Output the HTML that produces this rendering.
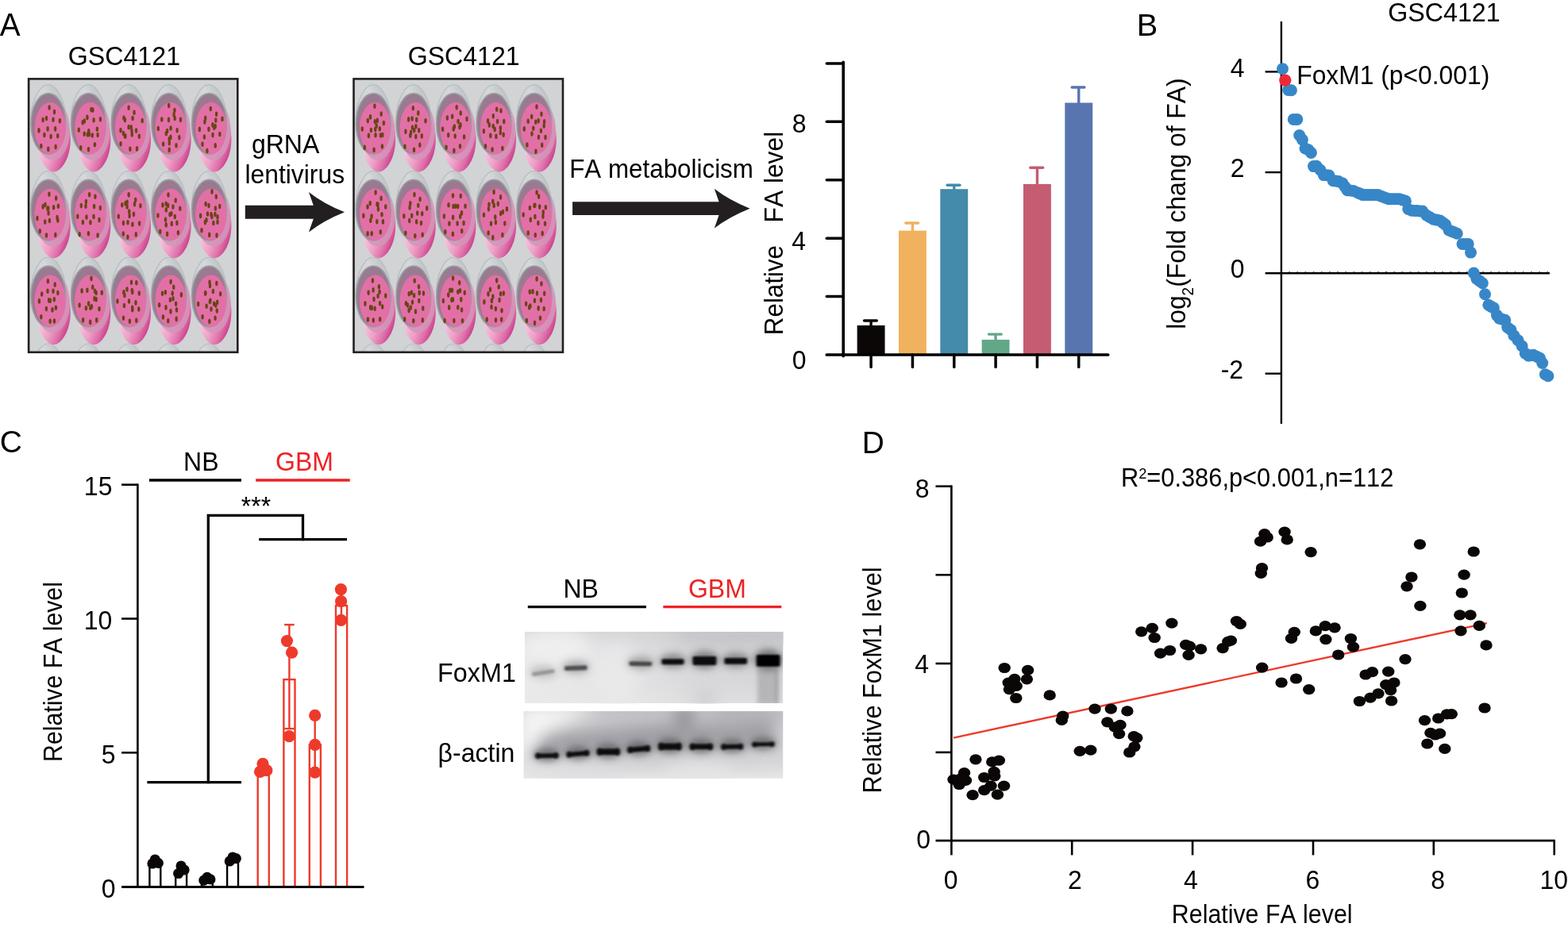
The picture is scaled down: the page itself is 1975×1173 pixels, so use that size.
<!DOCTYPE html>
<html lang="en"><head><meta charset="utf-8"><title>Figure</title>
<style>html,body{margin:0;padding:0;background:#fff;overflow:hidden}svg{display:block}text{font-family:'Liberation Sans', sans-serif;font-kerning:none}</style>
</head><body>
<svg width="1975" height="1173" viewBox="0 0 1975 1173">
<rect width="1975" height="1173" fill="#fff"/>
<defs>
<linearGradient id="gBase" gradientUnits="userSpaceOnUse" x1="-12" y1="26" x2="24" y2="40"><stop offset="0" stop-color="#f7c4dd"/><stop offset="0.4" stop-color="#eea0c7"/><stop offset="0.72" stop-color="#de6ea8"/><stop offset="1" stop-color="#c32c81"/></linearGradient>
<linearGradient id="gHalo" gradientUnits="userSpaceOnUse" x1="-24" y1="-10" x2="16" y2="-30"><stop offset="0" stop-color="#b3b8bc"/><stop offset="0.35" stop-color="#cfd2d4"/><stop offset="0.7" stop-color="#d6d8da"/><stop offset="1" stop-color="#c3c7ca"/></linearGradient>
<filter id="b1" x="-20%" y="-20%" width="140%" height="140%"><feGaussianBlur stdDeviation="0.6"/></filter>
<filter id="bb" x="-30%" y="-60%" width="160%" height="220%"><feGaussianBlur stdDeviation="1.5 1.0"/></filter>
<filter id="bb2" x="-10%" y="-50%" width="120%" height="200%"><feGaussianBlur stdDeviation="4.6"/></filter>
<filter id="bb3" x="-20%" y="-50%" width="140%" height="200%"><feGaussianBlur stdDeviation="9"/></filter>
<filter id="bb4" x="-50%" y="-20%" width="200%" height="140%"><feGaussianBlur stdDeviation="2.5 5"/></filter>
<linearGradient id="gBlot1" x1="0" y1="0" x2="1" y2="0"><stop offset="0" stop-color="#ededee"/><stop offset="0.4" stop-color="#e4e4e6"/><stop offset="0.62" stop-color="#d6d6d9"/><stop offset="1" stop-color="#cdced1"/></linearGradient>
<linearGradient id="gBlot1v" x1="0" y1="0" x2="0" y2="1"><stop offset="0" stop-color="#c8c9cb" stop-opacity="0.5"/><stop offset="0.5" stop-color="#e0e0e1" stop-opacity="0.2"/><stop offset="1" stop-color="#e8e8e8" stop-opacity="0.6"/></linearGradient>
<linearGradient id="gBlot2" x1="0" y1="0" x2="1" y2="0"><stop offset="0" stop-color="#dedee0"/><stop offset="0.3" stop-color="#c9c9cd"/><stop offset="0.6" stop-color="#c4c4c8"/><stop offset="1" stop-color="#cfcfd3"/></linearGradient>
<linearGradient id="gBlot2v" x1="0" y1="0" x2="0" y2="1"><stop offset="0" stop-color="#bbbcbe" stop-opacity="0.55"/><stop offset="0.55" stop-color="#d8d8d9" stop-opacity="0.1"/><stop offset="1" stop-color="#f0f0f0" stop-opacity="0.75"/></linearGradient>
<clipPath id="cb1"><rect x="36.1" y="99.4" width="263.2" height="344.4"/></clipPath>
<clipPath id="cb2"><rect x="445.5" y="99.4" width="263.5" height="344.4"/></clipPath>
<clipPath id="cw1"><rect x="661" y="796" width="325.3" height="90.1"/></clipPath>
<clipPath id="cw2"><rect x="659.5" y="896.1" width="326.9" height="84.6"/></clipPath>
<path id="halo" d="M19.40 -12.00C19.40 11.75 9.64 31.00 -2.40 31.00C-14.44 31.00 -24.20 11.75 -24.20 -12.00C-24.20 -36.94 -11.99 -55.00 -2.40 -55.00C7.19 -55.00 19.40 -36.94 19.40 -12.00Z" fill="url(#gHalo)" stroke="#b9bdc0" stroke-width="1.2"/>
<path id="base" d="M-16.80 14.20C-16.80 -8.33 -7.31 -26.60 4.40 -26.60C16.11 -26.60 25.60 -8.33 25.60 14.20C25.60 37.86 13.73 55.00 4.40 55.00C-4.93 55.00 -16.80 37.86 -16.80 14.20Z" fill="url(#gBase)"/>
</defs>
<g id="panelA">
<text font-size="39" transform="translate(-0.15 45.4) scale(0.9942 1.045)">A</text>
<text font-size="31" transform="translate(85.64 81.8) scale(1.0398 1.045)">GSC4121</text>
<text font-size="31" transform="translate(513.65 81.8) scale(1.0359 1.045)">GSC4121</text>
<text font-size="31" transform="translate(316.91 193.0) scale(1.0338 1.045)">gRNA</text>
<text font-size="31" transform="translate(308.45 230.9) scale(1.0273 1.045)">lentivirus</text>
<text font-size="31" transform="translate(717.17 223.7) scale(1.0116 1.045)">FA metabolicism</text>
<rect x="36.099999999999994" y="99.4" width="263.2" height="344.4" fill="#d1d3d4"/>
<g clip-path="url(#cb1)" filter="url(#b1)">
<g transform="translate(63.2 488.0)"><use href="#halo"/><use href="#base"/><ellipse cx="3.1" cy="2.6" rx="21.8" ry="37.6" fill="#d295b9" opacity="0.85"/><ellipse cx="-2.3" cy="-5.6" rx="21.8" ry="38.4" fill="#9a7a90" stroke="#989da1" stroke-width="1.7"/><ellipse cx="0" cy="0" rx="19.6" ry="32.6" fill="#e26fa7"/><g fill="#6b4416"><ellipse cx="-3.5" cy="-28.4" rx="1.7" ry="3.3"/><ellipse cx="4.8" cy="-19.4" rx="1.7" ry="3.3"/><ellipse cx="-10.9" cy="-12.8" rx="1.7" ry="3.3"/><ellipse cx="-6.0" cy="-11.0" rx="1.7" ry="3.3"/><ellipse cx="2.0" cy="-9.5" rx="1.7" ry="3.3"/><ellipse cx="13.0" cy="-11.6" rx="1.7" ry="3.3"/><ellipse cx="-14.0" cy="2.5" rx="1.7" ry="3.3"/><ellipse cx="-3.5" cy="3.8" rx="1.7" ry="3.3"/><ellipse cx="4.4" cy="-2.1" rx="1.7" ry="3.3"/><ellipse cx="-5.1" cy="7.9" rx="1.7" ry="3.3"/><ellipse cx="-0.6" cy="9.5" rx="1.7" ry="3.3"/><ellipse cx="8.8" cy="12.3" rx="1.7" ry="3.3"/><ellipse cx="-12.8" cy="20.7" rx="1.7" ry="3.3"/><ellipse cx="-2.0" cy="26.6" rx="1.7" ry="3.3"/><ellipse cx="9.2" cy="25.5" rx="1.7" ry="3.3"/><ellipse cx="1.0" cy="2.2" rx="1.7" ry="3.3"/><ellipse cx="1.1" cy="-7.2" rx="1.7" ry="3.3"/><ellipse cx="4.7" cy="5.5" rx="1.7" ry="3.3"/></g></g>
<g transform="translate(113.8 488.0)"><use href="#halo"/><use href="#base"/><ellipse cx="3.1" cy="2.6" rx="21.8" ry="37.6" fill="#d295b9" opacity="0.85"/><ellipse cx="-2.3" cy="-5.6" rx="21.8" ry="38.4" fill="#9a7a90" stroke="#989da1" stroke-width="1.7"/><ellipse cx="0" cy="0" rx="19.6" ry="32.6" fill="#e26fa7"/><g fill="#6b4416"><ellipse cx="-3.2" cy="-27.8" rx="1.7" ry="3.3"/><ellipse cx="4.3" cy="-18.1" rx="1.7" ry="3.3"/><ellipse cx="-9.1" cy="-9.2" rx="1.7" ry="3.3"/><ellipse cx="-6.7" cy="-12.4" rx="1.7" ry="3.3"/><ellipse cx="5.5" cy="-10.8" rx="1.7" ry="3.3"/><ellipse cx="14.4" cy="-7.1" rx="1.7" ry="3.3"/><ellipse cx="-14.8" cy="-0.2" rx="1.7" ry="3.3"/><ellipse cx="-1.8" cy="-1.4" rx="1.7" ry="3.3"/><ellipse cx="3.9" cy="2.2" rx="1.7" ry="3.3"/><ellipse cx="-5.6" cy="10.5" rx="1.7" ry="3.3"/><ellipse cx="3.2" cy="8.7" rx="1.7" ry="3.3"/><ellipse cx="7.4" cy="7.3" rx="1.7" ry="3.3"/><ellipse cx="-9.0" cy="20.1" rx="1.7" ry="3.3"/><ellipse cx="-4.1" cy="23.4" rx="1.7" ry="3.3"/><ellipse cx="4.6" cy="20.7" rx="1.7" ry="3.3"/><ellipse cx="0.7" cy="9.3" rx="1.7" ry="3.3"/><ellipse cx="-0.7" cy="-9.8" rx="1.7" ry="3.3"/><ellipse cx="-8.3" cy="-3.5" rx="1.7" ry="3.3"/></g></g>
<g transform="translate(164.5 488.0)"><use href="#halo"/><use href="#base"/><ellipse cx="3.1" cy="2.6" rx="21.8" ry="37.6" fill="#d295b9" opacity="0.85"/><ellipse cx="-2.3" cy="-5.6" rx="21.8" ry="38.4" fill="#9a7a90" stroke="#989da1" stroke-width="1.7"/><ellipse cx="0" cy="0" rx="19.6" ry="32.6" fill="#e26fa7"/><g fill="#6b4416"><ellipse cx="-0.7" cy="-25.3" rx="1.7" ry="3.3"/><ellipse cx="6.9" cy="-21.8" rx="1.7" ry="3.3"/><ellipse cx="-8.3" cy="-8.2" rx="1.7" ry="3.3"/><ellipse cx="-2.7" cy="-14.4" rx="1.7" ry="3.3"/><ellipse cx="4.6" cy="-10.2" rx="1.7" ry="3.3"/><ellipse cx="12.2" cy="-6.6" rx="1.7" ry="3.3"/><ellipse cx="-14.1" cy="2.5" rx="1.7" ry="3.3"/><ellipse cx="-0.9" cy="1.6" rx="1.7" ry="3.3"/><ellipse cx="5.4" cy="-0.3" rx="1.7" ry="3.3"/><ellipse cx="-7.3" cy="5.8" rx="1.7" ry="3.3"/><ellipse cx="1.4" cy="11.9" rx="1.7" ry="3.3"/><ellipse cx="9.1" cy="11.7" rx="1.7" ry="3.3"/><ellipse cx="-9.3" cy="22.7" rx="1.7" ry="3.3"/><ellipse cx="-1.5" cy="24.0" rx="1.7" ry="3.3"/><ellipse cx="4.7" cy="26.4" rx="1.7" ry="3.3"/><ellipse cx="10.3" cy="-0.7" rx="1.7" ry="3.3"/><ellipse cx="3.5" cy="3.0" rx="1.7" ry="3.3"/><ellipse cx="-4.6" cy="-12.6" rx="1.7" ry="3.3"/></g></g>
<g transform="translate(215.1 488.0)"><use href="#halo"/><use href="#base"/><ellipse cx="3.1" cy="2.6" rx="21.8" ry="37.6" fill="#d295b9" opacity="0.85"/><ellipse cx="-2.3" cy="-5.6" rx="21.8" ry="38.4" fill="#9a7a90" stroke="#989da1" stroke-width="1.7"/><ellipse cx="0" cy="0" rx="19.6" ry="32.6" fill="#e26fa7"/><g fill="#6b4416"><ellipse cx="-1.0" cy="-25.6" rx="1.7" ry="3.3"/><ellipse cx="7.0" cy="-18.1" rx="1.7" ry="3.3"/><ellipse cx="-7.2" cy="-11.3" rx="1.7" ry="3.3"/><ellipse cx="-2.5" cy="-13.0" rx="1.7" ry="3.3"/><ellipse cx="2.8" cy="-13.3" rx="1.7" ry="3.3"/><ellipse cx="12.3" cy="-11.5" rx="1.7" ry="3.3"/><ellipse cx="-15.3" cy="3.5" rx="1.7" ry="3.3"/><ellipse cx="-1.7" cy="2.3" rx="1.7" ry="3.3"/><ellipse cx="4.3" cy="-1.8" rx="1.7" ry="3.3"/><ellipse cx="-8.5" cy="8.8" rx="1.7" ry="3.3"/><ellipse cx="2.6" cy="12.3" rx="1.7" ry="3.3"/><ellipse cx="11.7" cy="10.1" rx="1.7" ry="3.3"/><ellipse cx="-10.7" cy="21.2" rx="1.7" ry="3.3"/><ellipse cx="-3.3" cy="24.5" rx="1.7" ry="3.3"/><ellipse cx="7.1" cy="24.1" rx="1.7" ry="3.3"/><ellipse cx="-2.4" cy="-1.3" rx="1.7" ry="3.3"/><ellipse cx="-0.5" cy="-2.0" rx="1.7" ry="3.3"/><ellipse cx="-0.4" cy="-1.3" rx="1.7" ry="3.3"/><ellipse cx="-4.1" cy="2.8" rx="1.7" ry="3.3"/></g></g>
<g transform="translate(265.8 488.0)"><use href="#halo"/><use href="#base"/><ellipse cx="3.1" cy="2.6" rx="21.8" ry="37.6" fill="#d295b9" opacity="0.85"/><ellipse cx="-2.3" cy="-5.6" rx="21.8" ry="38.4" fill="#9a7a90" stroke="#989da1" stroke-width="1.7"/><ellipse cx="0" cy="0" rx="19.6" ry="32.6" fill="#e26fa7"/><g fill="#6b4416"><ellipse cx="-0.9" cy="-24.6" rx="1.7" ry="3.3"/><ellipse cx="6.5" cy="-18.3" rx="1.7" ry="3.3"/><ellipse cx="-10.2" cy="-7.7" rx="1.7" ry="3.3"/><ellipse cx="-4.4" cy="-11.0" rx="1.7" ry="3.3"/><ellipse cx="5.1" cy="-8.3" rx="1.7" ry="3.3"/><ellipse cx="11.1" cy="-10.2" rx="1.7" ry="3.3"/><ellipse cx="-13.1" cy="3.3" rx="1.7" ry="3.3"/><ellipse cx="-1.8" cy="-0.0" rx="1.7" ry="3.3"/><ellipse cx="8.7" cy="-2.1" rx="1.7" ry="3.3"/><ellipse cx="-6.2" cy="7.7" rx="1.7" ry="3.3"/><ellipse cx="-1.5" cy="11.6" rx="1.7" ry="3.3"/><ellipse cx="7.3" cy="8.0" rx="1.7" ry="3.3"/><ellipse cx="-12.3" cy="20.3" rx="1.7" ry="3.3"/><ellipse cx="-4.1" cy="23.7" rx="1.7" ry="3.3"/><ellipse cx="8.6" cy="21.0" rx="1.7" ry="3.3"/><ellipse cx="-6.2" cy="-6.2" rx="1.7" ry="3.3"/><ellipse cx="5.2" cy="10.7" rx="1.7" ry="3.3"/></g></g>
<g transform="translate(63.2 379.2)"><use href="#halo"/><use href="#base"/><ellipse cx="3.1" cy="2.6" rx="21.8" ry="37.6" fill="#d295b9" opacity="0.85"/><ellipse cx="-2.3" cy="-5.6" rx="21.8" ry="38.4" fill="#9a7a90" stroke="#989da1" stroke-width="1.7"/><ellipse cx="0" cy="0" rx="19.6" ry="32.6" fill="#e26fa7"/><g fill="#6b4416"><ellipse cx="-2.8" cy="-25.0" rx="1.7" ry="3.3"/><ellipse cx="6.0" cy="-20.6" rx="1.7" ry="3.3"/><ellipse cx="-10.5" cy="-8.7" rx="1.7" ry="3.3"/><ellipse cx="-3.2" cy="-12.4" rx="1.7" ry="3.3"/><ellipse cx="3.8" cy="-12.5" rx="1.7" ry="3.3"/><ellipse cx="9.7" cy="-10.2" rx="1.7" ry="3.3"/><ellipse cx="-13.8" cy="0.2" rx="1.7" ry="3.3"/><ellipse cx="-1.6" cy="-0.8" rx="1.7" ry="3.3"/><ellipse cx="5.1" cy="-1.9" rx="1.7" ry="3.3"/><ellipse cx="-4.8" cy="9.9" rx="1.7" ry="3.3"/><ellipse cx="2.8" cy="11.2" rx="1.7" ry="3.3"/><ellipse cx="7.2" cy="8.6" rx="1.7" ry="3.3"/><ellipse cx="-11.4" cy="20.1" rx="1.7" ry="3.3"/><ellipse cx="-0.1" cy="25.5" rx="1.7" ry="3.3"/><ellipse cx="5.2" cy="25.4" rx="1.7" ry="3.3"/><ellipse cx="0.1" cy="-0.4" rx="1.7" ry="3.3"/></g></g>
<g transform="translate(113.8 379.2)"><use href="#halo"/><use href="#base"/><ellipse cx="3.1" cy="2.6" rx="21.8" ry="37.6" fill="#d295b9" opacity="0.85"/><ellipse cx="-2.3" cy="-5.6" rx="21.8" ry="38.4" fill="#9a7a90" stroke="#989da1" stroke-width="1.7"/><ellipse cx="0" cy="0" rx="19.6" ry="32.6" fill="#e26fa7"/><g fill="#6b4416"><ellipse cx="1.2" cy="-28.3" rx="1.7" ry="3.3"/><ellipse cx="2.9" cy="-17.5" rx="1.7" ry="3.3"/><ellipse cx="-10.7" cy="-12.8" rx="1.7" ry="3.3"/><ellipse cx="-3.9" cy="-13.4" rx="1.7" ry="3.3"/><ellipse cx="5.7" cy="-12.5" rx="1.7" ry="3.3"/><ellipse cx="14.5" cy="-10.5" rx="1.7" ry="3.3"/><ellipse cx="-13.7" cy="5.4" rx="1.7" ry="3.3"/><ellipse cx="-2.2" cy="3.3" rx="1.7" ry="3.3"/><ellipse cx="7.4" cy="-1.9" rx="1.7" ry="3.3"/><ellipse cx="-5.4" cy="9.0" rx="1.7" ry="3.3"/><ellipse cx="-0.0" cy="8.6" rx="1.7" ry="3.3"/><ellipse cx="11.2" cy="10.1" rx="1.7" ry="3.3"/><ellipse cx="-9.2" cy="24.0" rx="1.7" ry="3.3"/><ellipse cx="-0.1" cy="26.7" rx="1.7" ry="3.3"/><ellipse cx="7.9" cy="24.2" rx="1.7" ry="3.3"/><ellipse cx="1.6" cy="7.2" rx="1.7" ry="3.3"/><ellipse cx="7.3" cy="-10.2" rx="1.7" ry="3.3"/><ellipse cx="5.2" cy="-2.8" rx="1.7" ry="3.3"/></g></g>
<g transform="translate(164.5 379.2)"><use href="#halo"/><use href="#base"/><ellipse cx="3.1" cy="2.6" rx="21.8" ry="37.6" fill="#d295b9" opacity="0.85"/><ellipse cx="-2.3" cy="-5.6" rx="21.8" ry="38.4" fill="#9a7a90" stroke="#989da1" stroke-width="1.7"/><ellipse cx="0" cy="0" rx="19.6" ry="32.6" fill="#e26fa7"/><g fill="#6b4416"><ellipse cx="1.0" cy="-23.4" rx="1.7" ry="3.3"/><ellipse cx="7.3" cy="-23.0" rx="1.7" ry="3.3"/><ellipse cx="-8.6" cy="-11.0" rx="1.7" ry="3.3"/><ellipse cx="-4.5" cy="-14.7" rx="1.7" ry="3.3"/><ellipse cx="2.3" cy="-11.2" rx="1.7" ry="3.3"/><ellipse cx="10.8" cy="-9.7" rx="1.7" ry="3.3"/><ellipse cx="-16.6" cy="0.3" rx="1.7" ry="3.3"/><ellipse cx="-2.0" cy="0.3" rx="1.7" ry="3.3"/><ellipse cx="6.5" cy="2.2" rx="1.7" ry="3.3"/><ellipse cx="-8.0" cy="5.8" rx="1.7" ry="3.3"/><ellipse cx="2.3" cy="11.0" rx="1.7" ry="3.3"/><ellipse cx="10.3" cy="10.3" rx="1.7" ry="3.3"/><ellipse cx="-9.0" cy="21.6" rx="1.7" ry="3.3"/><ellipse cx="-1.1" cy="25.5" rx="1.7" ry="3.3"/><ellipse cx="7.3" cy="24.5" rx="1.7" ry="3.3"/><ellipse cx="-7.6" cy="-7.2" rx="1.7" ry="3.3"/><ellipse cx="2.2" cy="8.7" rx="1.7" ry="3.3"/><ellipse cx="1.8" cy="-13.1" rx="1.7" ry="3.3"/></g></g>
<g transform="translate(215.1 379.2)"><use href="#halo"/><use href="#base"/><ellipse cx="3.1" cy="2.6" rx="21.8" ry="37.6" fill="#d295b9" opacity="0.85"/><ellipse cx="-2.3" cy="-5.6" rx="21.8" ry="38.4" fill="#9a7a90" stroke="#989da1" stroke-width="1.7"/><ellipse cx="0" cy="0" rx="19.6" ry="32.6" fill="#e26fa7"/><g fill="#6b4416"><ellipse cx="-0.0" cy="-24.1" rx="1.7" ry="3.3"/><ellipse cx="3.7" cy="-17.5" rx="1.7" ry="3.3"/><ellipse cx="-10.6" cy="-9.5" rx="1.7" ry="3.3"/><ellipse cx="-6.7" cy="-11.0" rx="1.7" ry="3.3"/><ellipse cx="2.1" cy="-9.7" rx="1.7" ry="3.3"/><ellipse cx="13.3" cy="-7.8" rx="1.7" ry="3.3"/><ellipse cx="-14.5" cy="5.0" rx="1.7" ry="3.3"/><ellipse cx="-0.7" cy="-1.5" rx="1.7" ry="3.3"/><ellipse cx="6.5" cy="3.5" rx="1.7" ry="3.3"/><ellipse cx="-6.1" cy="8.2" rx="1.7" ry="3.3"/><ellipse cx="-0.1" cy="13.2" rx="1.7" ry="3.3"/><ellipse cx="7.4" cy="11.2" rx="1.7" ry="3.3"/><ellipse cx="-9.7" cy="20.3" rx="1.7" ry="3.3"/><ellipse cx="-3.3" cy="25.1" rx="1.7" ry="3.3"/><ellipse cx="7.1" cy="22.7" rx="1.7" ry="3.3"/><ellipse cx="2.9" cy="-2.9" rx="1.7" ry="3.3"/></g></g>
<g transform="translate(265.8 379.2)"><use href="#halo"/><use href="#base"/><ellipse cx="3.1" cy="2.6" rx="21.8" ry="37.6" fill="#d295b9" opacity="0.85"/><ellipse cx="-2.3" cy="-5.6" rx="21.8" ry="38.4" fill="#9a7a90" stroke="#989da1" stroke-width="1.7"/><ellipse cx="0" cy="0" rx="19.6" ry="32.6" fill="#e26fa7"/><g fill="#6b4416"><ellipse cx="-1.7" cy="-23.5" rx="1.7" ry="3.3"/><ellipse cx="7.0" cy="-22.2" rx="1.7" ry="3.3"/><ellipse cx="-7.2" cy="-9.7" rx="1.7" ry="3.3"/><ellipse cx="-7.0" cy="-9.8" rx="1.7" ry="3.3"/><ellipse cx="2.6" cy="-12.1" rx="1.7" ry="3.3"/><ellipse cx="11.8" cy="-8.9" rx="1.7" ry="3.3"/><ellipse cx="-16.1" cy="3.9" rx="1.7" ry="3.3"/><ellipse cx="-1.4" cy="0.9" rx="1.7" ry="3.3"/><ellipse cx="7.9" cy="1.5" rx="1.7" ry="3.3"/><ellipse cx="-5.7" cy="6.6" rx="1.7" ry="3.3"/><ellipse cx="0.2" cy="10.3" rx="1.7" ry="3.3"/><ellipse cx="7.5" cy="12.4" rx="1.7" ry="3.3"/><ellipse cx="-10.7" cy="20.0" rx="1.7" ry="3.3"/><ellipse cx="-2.0" cy="25.8" rx="1.7" ry="3.3"/><ellipse cx="5.3" cy="21.5" rx="1.7" ry="3.3"/><ellipse cx="3.8" cy="3.5" rx="1.7" ry="3.3"/><ellipse cx="6.0" cy="5.4" rx="1.7" ry="3.3"/><ellipse cx="-1.3" cy="-19.2" rx="1.7" ry="3.3"/><ellipse cx="-0.8" cy="-0.4" rx="1.7" ry="3.3"/></g></g>
<g transform="translate(63.2 270.4)"><use href="#halo"/><use href="#base"/><ellipse cx="3.1" cy="2.6" rx="21.8" ry="37.6" fill="#d295b9" opacity="0.85"/><ellipse cx="-2.3" cy="-5.6" rx="21.8" ry="38.4" fill="#9a7a90" stroke="#989da1" stroke-width="1.7"/><ellipse cx="0" cy="0" rx="19.6" ry="32.6" fill="#e26fa7"/><g fill="#6b4416"><ellipse cx="-1.3" cy="-25.7" rx="1.7" ry="3.3"/><ellipse cx="7.4" cy="-20.7" rx="1.7" ry="3.3"/><ellipse cx="-9.1" cy="-10.0" rx="1.7" ry="3.3"/><ellipse cx="-6.3" cy="-12.4" rx="1.7" ry="3.3"/><ellipse cx="4.4" cy="-9.1" rx="1.7" ry="3.3"/><ellipse cx="10.2" cy="-10.6" rx="1.7" ry="3.3"/><ellipse cx="-16.2" cy="4.7" rx="1.7" ry="3.3"/><ellipse cx="-2.1" cy="-1.9" rx="1.7" ry="3.3"/><ellipse cx="8.8" cy="3.6" rx="1.7" ry="3.3"/><ellipse cx="-6.5" cy="9.2" rx="1.7" ry="3.3"/><ellipse cx="-0.8" cy="7.6" rx="1.7" ry="3.3"/><ellipse cx="9.6" cy="7.0" rx="1.7" ry="3.3"/><ellipse cx="-12.9" cy="20.9" rx="1.7" ry="3.3"/><ellipse cx="-4.7" cy="26.1" rx="1.7" ry="3.3"/><ellipse cx="6.6" cy="25.6" rx="1.7" ry="3.3"/><ellipse cx="-3.3" cy="-7.7" rx="1.7" ry="3.3"/><ellipse cx="-2.5" cy="-7.8" rx="1.7" ry="3.3"/></g></g>
<g transform="translate(113.8 270.4)"><use href="#halo"/><use href="#base"/><ellipse cx="3.1" cy="2.6" rx="21.8" ry="37.6" fill="#d295b9" opacity="0.85"/><ellipse cx="-2.3" cy="-5.6" rx="21.8" ry="38.4" fill="#9a7a90" stroke="#989da1" stroke-width="1.7"/><ellipse cx="0" cy="0" rx="19.6" ry="32.6" fill="#e26fa7"/><g fill="#6b4416"><ellipse cx="-1.2" cy="-25.2" rx="1.7" ry="3.3"/><ellipse cx="6.1" cy="-22.6" rx="1.7" ry="3.3"/><ellipse cx="-11.5" cy="-11.3" rx="1.7" ry="3.3"/><ellipse cx="-5.8" cy="-10.6" rx="1.7" ry="3.3"/><ellipse cx="4.8" cy="-10.3" rx="1.7" ry="3.3"/><ellipse cx="12.5" cy="-8.4" rx="1.7" ry="3.3"/><ellipse cx="-16.0" cy="2.4" rx="1.7" ry="3.3"/><ellipse cx="-4.8" cy="3.2" rx="1.7" ry="3.3"/><ellipse cx="4.2" cy="2.7" rx="1.7" ry="3.3"/><ellipse cx="-9.4" cy="9.6" rx="1.7" ry="3.3"/><ellipse cx="0.1" cy="9.9" rx="1.7" ry="3.3"/><ellipse cx="11.2" cy="6.7" rx="1.7" ry="3.3"/><ellipse cx="-13.6" cy="24.9" rx="1.7" ry="3.3"/><ellipse cx="-2.4" cy="23.8" rx="1.7" ry="3.3"/><ellipse cx="9.3" cy="26.2" rx="1.7" ry="3.3"/><ellipse cx="-5.4" cy="-16.4" rx="1.7" ry="3.3"/></g></g>
<g transform="translate(164.5 270.4)"><use href="#halo"/><use href="#base"/><ellipse cx="3.1" cy="2.6" rx="21.8" ry="37.6" fill="#d295b9" opacity="0.85"/><ellipse cx="-2.3" cy="-5.6" rx="21.8" ry="38.4" fill="#9a7a90" stroke="#989da1" stroke-width="1.7"/><ellipse cx="0" cy="0" rx="19.6" ry="32.6" fill="#e26fa7"/><g fill="#6b4416"><ellipse cx="-2.3" cy="-25.0" rx="1.7" ry="3.3"/><ellipse cx="6.2" cy="-18.4" rx="1.7" ry="3.3"/><ellipse cx="-10.7" cy="-12.1" rx="1.7" ry="3.3"/><ellipse cx="-6.5" cy="-14.1" rx="1.7" ry="3.3"/><ellipse cx="5.0" cy="-13.1" rx="1.7" ry="3.3"/><ellipse cx="12.4" cy="-11.1" rx="1.7" ry="3.3"/><ellipse cx="-15.2" cy="2.4" rx="1.7" ry="3.3"/><ellipse cx="-1.4" cy="1.5" rx="1.7" ry="3.3"/><ellipse cx="4.0" cy="-0.5" rx="1.7" ry="3.3"/><ellipse cx="-9.1" cy="10.7" rx="1.7" ry="3.3"/><ellipse cx="2.4" cy="12.3" rx="1.7" ry="3.3"/><ellipse cx="11.1" cy="11.1" rx="1.7" ry="3.3"/><ellipse cx="-9.2" cy="24.2" rx="1.7" ry="3.3"/><ellipse cx="-3.6" cy="28.4" rx="1.7" ry="3.3"/><ellipse cx="6.8" cy="25.0" rx="1.7" ry="3.3"/><ellipse cx="-4.4" cy="-15.6" rx="1.7" ry="3.3"/><ellipse cx="-4.4" cy="-10.0" rx="1.7" ry="3.3"/><ellipse cx="-3.5" cy="9.8" rx="1.7" ry="3.3"/><ellipse cx="-1.8" cy="-3.9" rx="1.7" ry="3.3"/></g></g>
<g transform="translate(215.1 270.4)"><use href="#halo"/><use href="#base"/><ellipse cx="3.1" cy="2.6" rx="21.8" ry="37.6" fill="#d295b9" opacity="0.85"/><ellipse cx="-2.3" cy="-5.6" rx="21.8" ry="38.4" fill="#9a7a90" stroke="#989da1" stroke-width="1.7"/><ellipse cx="0" cy="0" rx="19.6" ry="32.6" fill="#e26fa7"/><g fill="#6b4416"><ellipse cx="-3.1" cy="-24.9" rx="1.7" ry="3.3"/><ellipse cx="6.1" cy="-17.9" rx="1.7" ry="3.3"/><ellipse cx="-10.2" cy="-12.0" rx="1.7" ry="3.3"/><ellipse cx="-3.5" cy="-11.5" rx="1.7" ry="3.3"/><ellipse cx="2.8" cy="-9.8" rx="1.7" ry="3.3"/><ellipse cx="11.7" cy="-7.7" rx="1.7" ry="3.3"/><ellipse cx="-16.1" cy="1.1" rx="1.7" ry="3.3"/><ellipse cx="-1.1" cy="-0.1" rx="1.7" ry="3.3"/><ellipse cx="5.2" cy="2.6" rx="1.7" ry="3.3"/><ellipse cx="-6.6" cy="6.4" rx="1.7" ry="3.3"/><ellipse cx="1.2" cy="11.5" rx="1.7" ry="3.3"/><ellipse cx="7.8" cy="10.5" rx="1.7" ry="3.3"/><ellipse cx="-13.3" cy="21.4" rx="1.7" ry="3.3"/><ellipse cx="-4.5" cy="24.5" rx="1.7" ry="3.3"/><ellipse cx="9.3" cy="22.9" rx="1.7" ry="3.3"/><ellipse cx="0.8" cy="-1.1" rx="1.7" ry="3.3"/><ellipse cx="-5.9" cy="-13.7" rx="1.7" ry="3.3"/><ellipse cx="-5.8" cy="-6.0" rx="1.7" ry="3.3"/><ellipse cx="-5.9" cy="13.0" rx="1.7" ry="3.3"/></g></g>
<g transform="translate(265.8 270.4)"><use href="#halo"/><use href="#base"/><ellipse cx="3.1" cy="2.6" rx="21.8" ry="37.6" fill="#d295b9" opacity="0.85"/><ellipse cx="-2.3" cy="-5.6" rx="21.8" ry="38.4" fill="#9a7a90" stroke="#989da1" stroke-width="1.7"/><ellipse cx="0" cy="0" rx="19.6" ry="32.6" fill="#e26fa7"/><g fill="#6b4416"><ellipse cx="1.2" cy="-29.0" rx="1.7" ry="3.3"/><ellipse cx="6.5" cy="-22.6" rx="1.7" ry="3.3"/><ellipse cx="-6.7" cy="-13.4" rx="1.7" ry="3.3"/><ellipse cx="-2.8" cy="-11.4" rx="1.7" ry="3.3"/><ellipse cx="5.6" cy="-7.9" rx="1.7" ry="3.3"/><ellipse cx="10.9" cy="-10.4" rx="1.7" ry="3.3"/><ellipse cx="-13.2" cy="1.5" rx="1.7" ry="3.3"/><ellipse cx="-4.3" cy="-0.8" rx="1.7" ry="3.3"/><ellipse cx="8.2" cy="3.0" rx="1.7" ry="3.3"/><ellipse cx="-5.8" cy="6.8" rx="1.7" ry="3.3"/><ellipse cx="3.0" cy="10.6" rx="1.7" ry="3.3"/><ellipse cx="8.2" cy="9.3" rx="1.7" ry="3.3"/><ellipse cx="-11.8" cy="19.9" rx="1.7" ry="3.3"/><ellipse cx="-2.1" cy="25.5" rx="1.7" ry="3.3"/><ellipse cx="7.2" cy="26.1" rx="1.7" ry="3.3"/><ellipse cx="-7.4" cy="9.7" rx="1.7" ry="3.3"/><ellipse cx="5.1" cy="-0.3" rx="1.7" ry="3.3"/><ellipse cx="0.2" cy="-0.1" rx="1.7" ry="3.3"/><ellipse cx="1.1" cy="2.7" rx="1.7" ry="3.3"/></g></g>
<g transform="translate(63.2 161.6)"><use href="#halo"/><use href="#base"/><ellipse cx="3.1" cy="2.6" rx="21.8" ry="37.6" fill="#d295b9" opacity="0.85"/><ellipse cx="-2.3" cy="-5.6" rx="21.8" ry="38.4" fill="#9a7a90" stroke="#989da1" stroke-width="1.7"/><ellipse cx="0" cy="0" rx="19.6" ry="32.6" fill="#e26fa7"/><g fill="#6b4416"><ellipse cx="-1.1" cy="-26.1" rx="1.7" ry="3.3"/><ellipse cx="5.3" cy="-20.5" rx="1.7" ry="3.3"/><ellipse cx="-9.1" cy="-10.5" rx="1.7" ry="3.3"/><ellipse cx="-4.7" cy="-12.5" rx="1.7" ry="3.3"/><ellipse cx="3.8" cy="-10.9" rx="1.7" ry="3.3"/><ellipse cx="12.2" cy="-9.4" rx="1.7" ry="3.3"/><ellipse cx="-14.2" cy="2.8" rx="1.7" ry="3.3"/><ellipse cx="-3.1" cy="0.8" rx="1.7" ry="3.3"/><ellipse cx="6.4" cy="0.8" rx="1.7" ry="3.3"/><ellipse cx="-7.3" cy="8.5" rx="1.7" ry="3.3"/><ellipse cx="0.9" cy="10.5" rx="1.7" ry="3.3"/><ellipse cx="9.5" cy="9.6" rx="1.7" ry="3.3"/><ellipse cx="-11.4" cy="22.4" rx="1.7" ry="3.3"/><ellipse cx="-2.4" cy="26.3" rx="1.7" ry="3.3"/><ellipse cx="6.9" cy="23.5" rx="1.7" ry="3.3"/></g></g>
<g transform="translate(113.8 161.6)"><use href="#halo"/><use href="#base"/><ellipse cx="3.1" cy="2.6" rx="21.8" ry="37.6" fill="#d295b9" opacity="0.85"/><ellipse cx="-2.3" cy="-5.6" rx="21.8" ry="38.4" fill="#9a7a90" stroke="#989da1" stroke-width="1.7"/><ellipse cx="0" cy="0" rx="19.6" ry="32.6" fill="#e26fa7"/><g fill="#6b4416"><ellipse cx="1.2" cy="-23.4" rx="1.7" ry="3.3"/><ellipse cx="3.1" cy="-23.0" rx="1.7" ry="3.3"/><ellipse cx="-7.4" cy="-9.1" rx="1.7" ry="3.3"/><ellipse cx="-3.9" cy="-13.7" rx="1.7" ry="3.3"/><ellipse cx="4.3" cy="-10.3" rx="1.7" ry="3.3"/><ellipse cx="12.6" cy="-11.4" rx="1.7" ry="3.3"/><ellipse cx="-14.5" cy="2.2" rx="1.7" ry="3.3"/><ellipse cx="-2.0" cy="3.8" rx="1.7" ry="3.3"/><ellipse cx="8.6" cy="1.1" rx="1.7" ry="3.3"/><ellipse cx="-7.6" cy="7.1" rx="1.7" ry="3.3"/><ellipse cx="-1.4" cy="7.7" rx="1.7" ry="3.3"/><ellipse cx="9.3" cy="8.5" rx="1.7" ry="3.3"/><ellipse cx="-12.0" cy="24.8" rx="1.7" ry="3.3"/><ellipse cx="-2.3" cy="26.7" rx="1.7" ry="3.3"/><ellipse cx="5.6" cy="20.6" rx="1.7" ry="3.3"/><ellipse cx="2.5" cy="9.0" rx="1.7" ry="3.3"/><ellipse cx="-3.4" cy="7.9" rx="1.7" ry="3.3"/><ellipse cx="-9.6" cy="-7.3" rx="1.7" ry="3.3"/></g></g>
<g transform="translate(164.5 161.6)"><use href="#halo"/><use href="#base"/><ellipse cx="3.1" cy="2.6" rx="21.8" ry="37.6" fill="#d295b9" opacity="0.85"/><ellipse cx="-2.3" cy="-5.6" rx="21.8" ry="38.4" fill="#9a7a90" stroke="#989da1" stroke-width="1.7"/><ellipse cx="0" cy="0" rx="19.6" ry="32.6" fill="#e26fa7"/><g fill="#6b4416"><ellipse cx="-2.4" cy="-25.8" rx="1.7" ry="3.3"/><ellipse cx="4.6" cy="-19.9" rx="1.7" ry="3.3"/><ellipse cx="-8.5" cy="-13.1" rx="1.7" ry="3.3"/><ellipse cx="-7.1" cy="-10.5" rx="1.7" ry="3.3"/><ellipse cx="2.6" cy="-12.5" rx="1.7" ry="3.3"/><ellipse cx="14.7" cy="-9.6" rx="1.7" ry="3.3"/><ellipse cx="-12.5" cy="2.7" rx="1.7" ry="3.3"/><ellipse cx="-2.4" cy="-1.3" rx="1.7" ry="3.3"/><ellipse cx="7.1" cy="3.0" rx="1.7" ry="3.3"/><ellipse cx="-7.2" cy="9.9" rx="1.7" ry="3.3"/><ellipse cx="1.8" cy="7.9" rx="1.7" ry="3.3"/><ellipse cx="10.8" cy="10.1" rx="1.7" ry="3.3"/><ellipse cx="-12.4" cy="19.6" rx="1.7" ry="3.3"/><ellipse cx="-0.6" cy="26.1" rx="1.7" ry="3.3"/><ellipse cx="8.0" cy="25.8" rx="1.7" ry="3.3"/><ellipse cx="-6.6" cy="9.8" rx="1.7" ry="3.3"/><ellipse cx="-9.1" cy="6.4" rx="1.7" ry="3.3"/><ellipse cx="0.7" cy="-1.3" rx="1.7" ry="3.3"/><ellipse cx="1.5" cy="3.3" rx="1.7" ry="3.3"/></g></g>
<g transform="translate(215.1 161.6)"><use href="#halo"/><use href="#base"/><ellipse cx="3.1" cy="2.6" rx="21.8" ry="37.6" fill="#d295b9" opacity="0.85"/><ellipse cx="-2.3" cy="-5.6" rx="21.8" ry="38.4" fill="#9a7a90" stroke="#989da1" stroke-width="1.7"/><ellipse cx="0" cy="0" rx="19.6" ry="32.6" fill="#e26fa7"/><g fill="#6b4416"><ellipse cx="-2.4" cy="-28.5" rx="1.7" ry="3.3"/><ellipse cx="4.8" cy="-22.6" rx="1.7" ry="3.3"/><ellipse cx="-11.3" cy="-11.1" rx="1.7" ry="3.3"/><ellipse cx="-2.6" cy="-10.7" rx="1.7" ry="3.3"/><ellipse cx="5.1" cy="-12.6" rx="1.7" ry="3.3"/><ellipse cx="12.4" cy="-10.7" rx="1.7" ry="3.3"/><ellipse cx="-15.8" cy="0.4" rx="1.7" ry="3.3"/><ellipse cx="-4.5" cy="3.4" rx="1.7" ry="3.3"/><ellipse cx="8.0" cy="2.6" rx="1.7" ry="3.3"/><ellipse cx="-5.8" cy="6.7" rx="1.7" ry="3.3"/><ellipse cx="-0.1" cy="11.3" rx="1.7" ry="3.3"/><ellipse cx="10.7" cy="11.7" rx="1.7" ry="3.3"/><ellipse cx="-9.5" cy="19.9" rx="1.7" ry="3.3"/><ellipse cx="-1.9" cy="27.3" rx="1.7" ry="3.3"/><ellipse cx="6.9" cy="21.6" rx="1.7" ry="3.3"/><ellipse cx="-1.8" cy="18.6" rx="1.7" ry="3.3"/><ellipse cx="4.0" cy="-17.2" rx="1.7" ry="3.3"/><ellipse cx="0.0" cy="-0.1" rx="1.7" ry="3.3"/><ellipse cx="-1.9" cy="13.6" rx="1.7" ry="3.3"/></g></g>
<g transform="translate(265.8 161.6)"><use href="#halo"/><use href="#base"/><ellipse cx="3.1" cy="2.6" rx="21.8" ry="37.6" fill="#d295b9" opacity="0.85"/><ellipse cx="-2.3" cy="-5.6" rx="21.8" ry="38.4" fill="#9a7a90" stroke="#989da1" stroke-width="1.7"/><ellipse cx="0" cy="0" rx="19.6" ry="32.6" fill="#e26fa7"/><g fill="#6b4416"><ellipse cx="-0.5" cy="-24.6" rx="1.7" ry="3.3"/><ellipse cx="6.8" cy="-17.8" rx="1.7" ry="3.3"/><ellipse cx="-7.9" cy="-8.0" rx="1.7" ry="3.3"/><ellipse cx="-7.1" cy="-12.7" rx="1.7" ry="3.3"/><ellipse cx="6.0" cy="-10.0" rx="1.7" ry="3.3"/><ellipse cx="14.2" cy="-11.7" rx="1.7" ry="3.3"/><ellipse cx="-14.4" cy="1.3" rx="1.7" ry="3.3"/><ellipse cx="-2.9" cy="1.2" rx="1.7" ry="3.3"/><ellipse cx="4.0" cy="-0.9" rx="1.7" ry="3.3"/><ellipse cx="-8.4" cy="11.0" rx="1.7" ry="3.3"/><ellipse cx="2.2" cy="8.5" rx="1.7" ry="3.3"/><ellipse cx="11.0" cy="7.4" rx="1.7" ry="3.3"/><ellipse cx="-10.8" cy="20.2" rx="1.7" ry="3.3"/><ellipse cx="-4.9" cy="28.5" rx="1.7" ry="3.3"/><ellipse cx="5.4" cy="21.8" rx="1.7" ry="3.3"/><ellipse cx="2.1" cy="-4.2" rx="1.7" ry="3.3"/><ellipse cx="5.4" cy="-2.6" rx="1.7" ry="3.3"/></g></g>
</g>
<rect x="36.099999999999994" y="99.4" width="263.2" height="344.4" fill="none" stroke="#231f20" stroke-width="2.6"/>
<rect x="445.5" y="99.4" width="263.5" height="344.4" fill="#d1d3d4"/>
<g clip-path="url(#cb2)" filter="url(#b1)">
<g transform="translate(472.6 488.0)"><use href="#halo"/><use href="#base"/><ellipse cx="3.1" cy="2.6" rx="21.8" ry="37.6" fill="#d295b9" opacity="0.85"/><ellipse cx="-2.3" cy="-5.6" rx="21.8" ry="38.4" fill="#9a7a90" stroke="#989da1" stroke-width="1.7"/><ellipse cx="0" cy="0" rx="19.6" ry="32.6" fill="#e26fa7"/><g fill="#6b4416"><ellipse cx="-2.0" cy="-24.5" rx="1.7" ry="3.3"/><ellipse cx="3.2" cy="-21.8" rx="1.7" ry="3.3"/><ellipse cx="-9.6" cy="-8.1" rx="1.7" ry="3.3"/><ellipse cx="-5.5" cy="-11.9" rx="1.7" ry="3.3"/><ellipse cx="1.8" cy="-12.9" rx="1.7" ry="3.3"/><ellipse cx="13.2" cy="-9.1" rx="1.7" ry="3.3"/><ellipse cx="-13.1" cy="2.5" rx="1.7" ry="3.3"/><ellipse cx="-3.2" cy="-1.0" rx="1.7" ry="3.3"/><ellipse cx="5.0" cy="-1.9" rx="1.7" ry="3.3"/><ellipse cx="-9.0" cy="8.2" rx="1.7" ry="3.3"/><ellipse cx="1.4" cy="11.9" rx="1.7" ry="3.3"/><ellipse cx="10.2" cy="11.5" rx="1.7" ry="3.3"/><ellipse cx="-10.2" cy="19.5" rx="1.7" ry="3.3"/><ellipse cx="-0.5" cy="26.3" rx="1.7" ry="3.3"/><ellipse cx="6.6" cy="21.0" rx="1.7" ry="3.3"/><ellipse cx="0.3" cy="-3.3" rx="1.7" ry="3.3"/><ellipse cx="5.2" cy="-6.6" rx="1.7" ry="3.3"/></g></g>
<g transform="translate(523.2 488.0)"><use href="#halo"/><use href="#base"/><ellipse cx="3.1" cy="2.6" rx="21.8" ry="37.6" fill="#d295b9" opacity="0.85"/><ellipse cx="-2.3" cy="-5.6" rx="21.8" ry="38.4" fill="#9a7a90" stroke="#989da1" stroke-width="1.7"/><ellipse cx="0" cy="0" rx="19.6" ry="32.6" fill="#e26fa7"/><g fill="#6b4416"><ellipse cx="-1.5" cy="-26.7" rx="1.7" ry="3.3"/><ellipse cx="7.3" cy="-18.1" rx="1.7" ry="3.3"/><ellipse cx="-10.1" cy="-8.4" rx="1.7" ry="3.3"/><ellipse cx="-2.4" cy="-10.5" rx="1.7" ry="3.3"/><ellipse cx="1.4" cy="-8.0" rx="1.7" ry="3.3"/><ellipse cx="11.0" cy="-7.6" rx="1.7" ry="3.3"/><ellipse cx="-15.8" cy="3.3" rx="1.7" ry="3.3"/><ellipse cx="-3.6" cy="1.9" rx="1.7" ry="3.3"/><ellipse cx="7.7" cy="2.9" rx="1.7" ry="3.3"/><ellipse cx="-5.6" cy="10.7" rx="1.7" ry="3.3"/><ellipse cx="1.5" cy="10.7" rx="1.7" ry="3.3"/><ellipse cx="10.9" cy="10.3" rx="1.7" ry="3.3"/><ellipse cx="-9.9" cy="21.7" rx="1.7" ry="3.3"/><ellipse cx="-0.1" cy="28.6" rx="1.7" ry="3.3"/><ellipse cx="5.4" cy="25.3" rx="1.7" ry="3.3"/><ellipse cx="-6.6" cy="-9.7" rx="1.7" ry="3.3"/></g></g>
<g transform="translate(573.9 488.0)"><use href="#halo"/><use href="#base"/><ellipse cx="3.1" cy="2.6" rx="21.8" ry="37.6" fill="#d295b9" opacity="0.85"/><ellipse cx="-2.3" cy="-5.6" rx="21.8" ry="38.4" fill="#9a7a90" stroke="#989da1" stroke-width="1.7"/><ellipse cx="0" cy="0" rx="19.6" ry="32.6" fill="#e26fa7"/><g fill="#6b4416"><ellipse cx="-1.1" cy="-26.2" rx="1.7" ry="3.3"/><ellipse cx="6.6" cy="-18.7" rx="1.7" ry="3.3"/><ellipse cx="-9.9" cy="-10.2" rx="1.7" ry="3.3"/><ellipse cx="-4.1" cy="-11.2" rx="1.7" ry="3.3"/><ellipse cx="6.1" cy="-9.4" rx="1.7" ry="3.3"/><ellipse cx="14.1" cy="-8.4" rx="1.7" ry="3.3"/><ellipse cx="-15.4" cy="1.5" rx="1.7" ry="3.3"/><ellipse cx="-5.6" cy="0.8" rx="1.7" ry="3.3"/><ellipse cx="4.7" cy="-0.5" rx="1.7" ry="3.3"/><ellipse cx="-9.1" cy="5.5" rx="1.7" ry="3.3"/><ellipse cx="2.2" cy="9.4" rx="1.7" ry="3.3"/><ellipse cx="10.3" cy="12.0" rx="1.7" ry="3.3"/><ellipse cx="-12.4" cy="22.9" rx="1.7" ry="3.3"/><ellipse cx="-4.3" cy="24.0" rx="1.7" ry="3.3"/><ellipse cx="7.9" cy="21.0" rx="1.7" ry="3.3"/><ellipse cx="-0.2" cy="17.6" rx="1.7" ry="3.3"/><ellipse cx="0.7" cy="-0.3" rx="1.7" ry="3.3"/><ellipse cx="-4.2" cy="5.8" rx="1.7" ry="3.3"/></g></g>
<g transform="translate(624.5 488.0)"><use href="#halo"/><use href="#base"/><ellipse cx="3.1" cy="2.6" rx="21.8" ry="37.6" fill="#d295b9" opacity="0.85"/><ellipse cx="-2.3" cy="-5.6" rx="21.8" ry="38.4" fill="#9a7a90" stroke="#989da1" stroke-width="1.7"/><ellipse cx="0" cy="0" rx="19.6" ry="32.6" fill="#e26fa7"/><g fill="#6b4416"><ellipse cx="-1.2" cy="-27.9" rx="1.7" ry="3.3"/><ellipse cx="7.7" cy="-18.0" rx="1.7" ry="3.3"/><ellipse cx="-7.9" cy="-8.5" rx="1.7" ry="3.3"/><ellipse cx="-7.1" cy="-10.9" rx="1.7" ry="3.3"/><ellipse cx="1.9" cy="-11.6" rx="1.7" ry="3.3"/><ellipse cx="12.2" cy="-10.9" rx="1.7" ry="3.3"/><ellipse cx="-14.0" cy="2.5" rx="1.7" ry="3.3"/><ellipse cx="-5.4" cy="-0.5" rx="1.7" ry="3.3"/><ellipse cx="6.5" cy="2.5" rx="1.7" ry="3.3"/><ellipse cx="-6.2" cy="7.2" rx="1.7" ry="3.3"/><ellipse cx="2.9" cy="12.0" rx="1.7" ry="3.3"/><ellipse cx="10.4" cy="8.2" rx="1.7" ry="3.3"/><ellipse cx="-9.5" cy="24.9" rx="1.7" ry="3.3"/><ellipse cx="-3.0" cy="27.6" rx="1.7" ry="3.3"/><ellipse cx="9.0" cy="26.0" rx="1.7" ry="3.3"/><ellipse cx="-0.7" cy="-2.4" rx="1.7" ry="3.3"/><ellipse cx="3.9" cy="-12.5" rx="1.7" ry="3.3"/><ellipse cx="-8.8" cy="-2.3" rx="1.7" ry="3.3"/></g></g>
<g transform="translate(675.2 488.0)"><use href="#halo"/><use href="#base"/><ellipse cx="3.1" cy="2.6" rx="21.8" ry="37.6" fill="#d295b9" opacity="0.85"/><ellipse cx="-2.3" cy="-5.6" rx="21.8" ry="38.4" fill="#9a7a90" stroke="#989da1" stroke-width="1.7"/><ellipse cx="0" cy="0" rx="19.6" ry="32.6" fill="#e26fa7"/><g fill="#6b4416"><ellipse cx="-0.3" cy="-25.3" rx="1.7" ry="3.3"/><ellipse cx="5.7" cy="-20.6" rx="1.7" ry="3.3"/><ellipse cx="-7.5" cy="-12.8" rx="1.7" ry="3.3"/><ellipse cx="-5.8" cy="-11.9" rx="1.7" ry="3.3"/><ellipse cx="2.1" cy="-10.1" rx="1.7" ry="3.3"/><ellipse cx="11.5" cy="-7.4" rx="1.7" ry="3.3"/><ellipse cx="-15.3" cy="4.8" rx="1.7" ry="3.3"/><ellipse cx="-0.9" cy="-0.5" rx="1.7" ry="3.3"/><ellipse cx="5.2" cy="-2.0" rx="1.7" ry="3.3"/><ellipse cx="-8.4" cy="7.0" rx="1.7" ry="3.3"/><ellipse cx="1.0" cy="13.4" rx="1.7" ry="3.3"/><ellipse cx="8.5" cy="10.9" rx="1.7" ry="3.3"/><ellipse cx="-12.1" cy="21.5" rx="1.7" ry="3.3"/><ellipse cx="-3.8" cy="28.4" rx="1.7" ry="3.3"/><ellipse cx="9.2" cy="21.8" rx="1.7" ry="3.3"/><ellipse cx="-1.5" cy="-13.6" rx="1.7" ry="3.3"/><ellipse cx="-0.9" cy="1.5" rx="1.7" ry="3.3"/></g></g>
<g transform="translate(472.6 379.2)"><use href="#halo"/><use href="#base"/><ellipse cx="3.1" cy="2.6" rx="21.8" ry="37.6" fill="#d295b9" opacity="0.85"/><ellipse cx="-2.3" cy="-5.6" rx="21.8" ry="38.4" fill="#9a7a90" stroke="#989da1" stroke-width="1.7"/><ellipse cx="0" cy="0" rx="19.6" ry="32.6" fill="#e26fa7"/><g fill="#6b4416"><ellipse cx="-3.2" cy="-25.6" rx="1.7" ry="3.3"/><ellipse cx="4.8" cy="-18.0" rx="1.7" ry="3.3"/><ellipse cx="-8.5" cy="-10.4" rx="1.7" ry="3.3"/><ellipse cx="-2.5" cy="-13.8" rx="1.7" ry="3.3"/><ellipse cx="5.5" cy="-11.4" rx="1.7" ry="3.3"/><ellipse cx="13.1" cy="-6.6" rx="1.7" ry="3.3"/><ellipse cx="-12.7" cy="3.4" rx="1.7" ry="3.3"/><ellipse cx="-1.6" cy="-2.1" rx="1.7" ry="3.3"/><ellipse cx="6.0" cy="3.0" rx="1.7" ry="3.3"/><ellipse cx="-6.0" cy="8.2" rx="1.7" ry="3.3"/><ellipse cx="-0.5" cy="9.6" rx="1.7" ry="3.3"/><ellipse cx="9.1" cy="7.3" rx="1.7" ry="3.3"/><ellipse cx="-9.2" cy="23.3" rx="1.7" ry="3.3"/><ellipse cx="-2.3" cy="24.4" rx="1.7" ry="3.3"/><ellipse cx="6.0" cy="23.0" rx="1.7" ry="3.3"/><ellipse cx="3.5" cy="-6.2" rx="1.7" ry="3.3"/><ellipse cx="-4.4" cy="8.7" rx="1.7" ry="3.3"/></g></g>
<g transform="translate(523.2 379.2)"><use href="#halo"/><use href="#base"/><ellipse cx="3.1" cy="2.6" rx="21.8" ry="37.6" fill="#d295b9" opacity="0.85"/><ellipse cx="-2.3" cy="-5.6" rx="21.8" ry="38.4" fill="#9a7a90" stroke="#989da1" stroke-width="1.7"/><ellipse cx="0" cy="0" rx="19.6" ry="32.6" fill="#e26fa7"/><g fill="#6b4416"><ellipse cx="-1.0" cy="-25.5" rx="1.7" ry="3.3"/><ellipse cx="4.3" cy="-17.9" rx="1.7" ry="3.3"/><ellipse cx="-8.0" cy="-8.9" rx="1.7" ry="3.3"/><ellipse cx="-4.9" cy="-10.5" rx="1.7" ry="3.3"/><ellipse cx="5.0" cy="-10.3" rx="1.7" ry="3.3"/><ellipse cx="10.2" cy="-9.7" rx="1.7" ry="3.3"/><ellipse cx="-11.8" cy="3.1" rx="1.7" ry="3.3"/><ellipse cx="-3.7" cy="1.6" rx="1.7" ry="3.3"/><ellipse cx="4.6" cy="-0.2" rx="1.7" ry="3.3"/><ellipse cx="-5.9" cy="8.3" rx="1.7" ry="3.3"/><ellipse cx="0.3" cy="13.3" rx="1.7" ry="3.3"/><ellipse cx="9.6" cy="9.3" rx="1.7" ry="3.3"/><ellipse cx="-13.5" cy="23.0" rx="1.7" ry="3.3"/><ellipse cx="-2.4" cy="25.0" rx="1.7" ry="3.3"/><ellipse cx="9.1" cy="24.2" rx="1.7" ry="3.3"/><ellipse cx="-8.1" cy="11.9" rx="1.7" ry="3.3"/><ellipse cx="-1.6" cy="-7.0" rx="1.7" ry="3.3"/><ellipse cx="-9.7" cy="5.3" rx="1.7" ry="3.3"/></g></g>
<g transform="translate(573.9 379.2)"><use href="#halo"/><use href="#base"/><ellipse cx="3.1" cy="2.6" rx="21.8" ry="37.6" fill="#d295b9" opacity="0.85"/><ellipse cx="-2.3" cy="-5.6" rx="21.8" ry="38.4" fill="#9a7a90" stroke="#989da1" stroke-width="1.7"/><ellipse cx="0" cy="0" rx="19.6" ry="32.6" fill="#e26fa7"/><g fill="#6b4416"><ellipse cx="-3.3" cy="-28.6" rx="1.7" ry="3.3"/><ellipse cx="4.8" cy="-22.9" rx="1.7" ry="3.3"/><ellipse cx="-7.1" cy="-13.3" rx="1.7" ry="3.3"/><ellipse cx="-4.5" cy="-13.5" rx="1.7" ry="3.3"/><ellipse cx="5.6" cy="-12.9" rx="1.7" ry="3.3"/><ellipse cx="11.4" cy="-10.4" rx="1.7" ry="3.3"/><ellipse cx="-15.5" cy="-0.2" rx="1.7" ry="3.3"/><ellipse cx="-3.4" cy="-1.7" rx="1.7" ry="3.3"/><ellipse cx="6.9" cy="-1.8" rx="1.7" ry="3.3"/><ellipse cx="-8.2" cy="8.2" rx="1.7" ry="3.3"/><ellipse cx="2.9" cy="8.1" rx="1.7" ry="3.3"/><ellipse cx="7.7" cy="11.3" rx="1.7" ry="3.3"/><ellipse cx="-13.8" cy="24.9" rx="1.7" ry="3.3"/><ellipse cx="-2.0" cy="24.9" rx="1.7" ry="3.3"/><ellipse cx="8.6" cy="25.1" rx="1.7" ry="3.3"/><ellipse cx="-5.0" cy="-1.3" rx="1.7" ry="3.3"/><ellipse cx="2.9" cy="-11.5" rx="1.7" ry="3.3"/><ellipse cx="-9.2" cy="-7.6" rx="1.7" ry="3.3"/></g></g>
<g transform="translate(624.5 379.2)"><use href="#halo"/><use href="#base"/><ellipse cx="3.1" cy="2.6" rx="21.8" ry="37.6" fill="#d295b9" opacity="0.85"/><ellipse cx="-2.3" cy="-5.6" rx="21.8" ry="38.4" fill="#9a7a90" stroke="#989da1" stroke-width="1.7"/><ellipse cx="0" cy="0" rx="19.6" ry="32.6" fill="#e26fa7"/><g fill="#6b4416"><ellipse cx="1.2" cy="-25.8" rx="1.7" ry="3.3"/><ellipse cx="3.7" cy="-17.7" rx="1.7" ry="3.3"/><ellipse cx="-9.5" cy="-8.8" rx="1.7" ry="3.3"/><ellipse cx="-7.0" cy="-14.5" rx="1.7" ry="3.3"/><ellipse cx="6.1" cy="-9.0" rx="1.7" ry="3.3"/><ellipse cx="9.8" cy="-9.6" rx="1.7" ry="3.3"/><ellipse cx="-14.6" cy="1.2" rx="1.7" ry="3.3"/><ellipse cx="-5.1" cy="-0.3" rx="1.7" ry="3.3"/><ellipse cx="4.6" cy="-1.1" rx="1.7" ry="3.3"/><ellipse cx="-5.5" cy="7.6" rx="1.7" ry="3.3"/><ellipse cx="-0.1" cy="9.9" rx="1.7" ry="3.3"/><ellipse cx="7.5" cy="12.0" rx="1.7" ry="3.3"/><ellipse cx="-11.3" cy="23.4" rx="1.7" ry="3.3"/><ellipse cx="0.0" cy="24.0" rx="1.7" ry="3.3"/><ellipse cx="7.2" cy="23.4" rx="1.7" ry="3.3"/><ellipse cx="-3.6" cy="-5.5" rx="1.7" ry="3.3"/></g></g>
<g transform="translate(675.2 379.2)"><use href="#halo"/><use href="#base"/><ellipse cx="3.1" cy="2.6" rx="21.8" ry="37.6" fill="#d295b9" opacity="0.85"/><ellipse cx="-2.3" cy="-5.6" rx="21.8" ry="38.4" fill="#9a7a90" stroke="#989da1" stroke-width="1.7"/><ellipse cx="0" cy="0" rx="19.6" ry="32.6" fill="#e26fa7"/><g fill="#6b4416"><ellipse cx="0.9" cy="-27.8" rx="1.7" ry="3.3"/><ellipse cx="6.8" cy="-21.7" rx="1.7" ry="3.3"/><ellipse cx="-7.9" cy="-11.4" rx="1.7" ry="3.3"/><ellipse cx="-4.2" cy="-11.8" rx="1.7" ry="3.3"/><ellipse cx="1.3" cy="-9.6" rx="1.7" ry="3.3"/><ellipse cx="10.5" cy="-9.4" rx="1.7" ry="3.3"/><ellipse cx="-12.6" cy="3.6" rx="1.7" ry="3.3"/><ellipse cx="-1.8" cy="-0.4" rx="1.7" ry="3.3"/><ellipse cx="6.3" cy="-1.1" rx="1.7" ry="3.3"/><ellipse cx="-7.3" cy="6.4" rx="1.7" ry="3.3"/><ellipse cx="3.0" cy="9.2" rx="1.7" ry="3.3"/><ellipse cx="10.0" cy="9.8" rx="1.7" ry="3.3"/><ellipse cx="-11.8" cy="24.8" rx="1.7" ry="3.3"/><ellipse cx="-1.7" cy="27.9" rx="1.7" ry="3.3"/><ellipse cx="5.3" cy="21.5" rx="1.7" ry="3.3"/><ellipse cx="-8.6" cy="8.0" rx="1.7" ry="3.3"/></g></g>
<g transform="translate(472.6 270.4)"><use href="#halo"/><use href="#base"/><ellipse cx="3.1" cy="2.6" rx="21.8" ry="37.6" fill="#d295b9" opacity="0.85"/><ellipse cx="-2.3" cy="-5.6" rx="21.8" ry="38.4" fill="#9a7a90" stroke="#989da1" stroke-width="1.7"/><ellipse cx="0" cy="0" rx="19.6" ry="32.6" fill="#e26fa7"/><g fill="#6b4416"><ellipse cx="0.5" cy="-27.8" rx="1.7" ry="3.3"/><ellipse cx="7.5" cy="-20.5" rx="1.7" ry="3.3"/><ellipse cx="-9.6" cy="-9.8" rx="1.7" ry="3.3"/><ellipse cx="-6.4" cy="-14.3" rx="1.7" ry="3.3"/><ellipse cx="3.4" cy="-12.5" rx="1.7" ry="3.3"/><ellipse cx="13.1" cy="-9.9" rx="1.7" ry="3.3"/><ellipse cx="-14.8" cy="1.5" rx="1.7" ry="3.3"/><ellipse cx="-4.5" cy="2.1" rx="1.7" ry="3.3"/><ellipse cx="8.4" cy="-0.1" rx="1.7" ry="3.3"/><ellipse cx="-5.8" cy="7.4" rx="1.7" ry="3.3"/><ellipse cx="2.2" cy="8.9" rx="1.7" ry="3.3"/><ellipse cx="9.8" cy="9.0" rx="1.7" ry="3.3"/><ellipse cx="-9.5" cy="24.0" rx="1.7" ry="3.3"/><ellipse cx="-4.4" cy="23.9" rx="1.7" ry="3.3"/><ellipse cx="6.7" cy="21.8" rx="1.7" ry="3.3"/><ellipse cx="3.8" cy="-6.9" rx="1.7" ry="3.3"/><ellipse cx="2.4" cy="-13.2" rx="1.7" ry="3.3"/></g></g>
<g transform="translate(523.2 270.4)"><use href="#halo"/><use href="#base"/><ellipse cx="3.1" cy="2.6" rx="21.8" ry="37.6" fill="#d295b9" opacity="0.85"/><ellipse cx="-2.3" cy="-5.6" rx="21.8" ry="38.4" fill="#9a7a90" stroke="#989da1" stroke-width="1.7"/><ellipse cx="0" cy="0" rx="19.6" ry="32.6" fill="#e26fa7"/><g fill="#6b4416"><ellipse cx="-1.2" cy="-25.1" rx="1.7" ry="3.3"/><ellipse cx="5.9" cy="-19.3" rx="1.7" ry="3.3"/><ellipse cx="-7.1" cy="-9.0" rx="1.7" ry="3.3"/><ellipse cx="-6.4" cy="-14.2" rx="1.7" ry="3.3"/><ellipse cx="3.6" cy="-11.6" rx="1.7" ry="3.3"/><ellipse cx="14.5" cy="-8.0" rx="1.7" ry="3.3"/><ellipse cx="-14.4" cy="1.9" rx="1.7" ry="3.3"/><ellipse cx="-4.5" cy="1.4" rx="1.7" ry="3.3"/><ellipse cx="8.5" cy="-1.2" rx="1.7" ry="3.3"/><ellipse cx="-7.5" cy="7.6" rx="1.7" ry="3.3"/><ellipse cx="1.4" cy="9.0" rx="1.7" ry="3.3"/><ellipse cx="7.3" cy="10.7" rx="1.7" ry="3.3"/><ellipse cx="-12.4" cy="23.3" rx="1.7" ry="3.3"/><ellipse cx="-0.4" cy="26.8" rx="1.7" ry="3.3"/><ellipse cx="9.0" cy="25.3" rx="1.7" ry="3.3"/><ellipse cx="2.5" cy="-1.9" rx="1.7" ry="3.3"/></g></g>
<g transform="translate(573.9 270.4)"><use href="#halo"/><use href="#base"/><ellipse cx="3.1" cy="2.6" rx="21.8" ry="37.6" fill="#d295b9" opacity="0.85"/><ellipse cx="-2.3" cy="-5.6" rx="21.8" ry="38.4" fill="#9a7a90" stroke="#989da1" stroke-width="1.7"/><ellipse cx="0" cy="0" rx="19.6" ry="32.6" fill="#e26fa7"/><g fill="#6b4416"><ellipse cx="-3.4" cy="-23.9" rx="1.7" ry="3.3"/><ellipse cx="6.4" cy="-23.4" rx="1.7" ry="3.3"/><ellipse cx="-8.9" cy="-12.1" rx="1.7" ry="3.3"/><ellipse cx="-2.8" cy="-10.4" rx="1.7" ry="3.3"/><ellipse cx="2.8" cy="-10.3" rx="1.7" ry="3.3"/><ellipse cx="12.2" cy="-10.7" rx="1.7" ry="3.3"/><ellipse cx="-14.5" cy="2.2" rx="1.7" ry="3.3"/><ellipse cx="-3.3" cy="3.5" rx="1.7" ry="3.3"/><ellipse cx="7.6" cy="-2.0" rx="1.7" ry="3.3"/><ellipse cx="-8.0" cy="11.3" rx="1.7" ry="3.3"/><ellipse cx="2.2" cy="11.1" rx="1.7" ry="3.3"/><ellipse cx="10.2" cy="10.7" rx="1.7" ry="3.3"/><ellipse cx="-13.1" cy="21.8" rx="1.7" ry="3.3"/><ellipse cx="-3.5" cy="24.5" rx="1.7" ry="3.3"/><ellipse cx="7.8" cy="20.7" rx="1.7" ry="3.3"/><ellipse cx="5.8" cy="2.4" rx="1.7" ry="3.3"/><ellipse cx="-0.1" cy="-10.6" rx="1.7" ry="3.3"/></g></g>
<g transform="translate(624.5 270.4)"><use href="#halo"/><use href="#base"/><ellipse cx="3.1" cy="2.6" rx="21.8" ry="37.6" fill="#d295b9" opacity="0.85"/><ellipse cx="-2.3" cy="-5.6" rx="21.8" ry="38.4" fill="#9a7a90" stroke="#989da1" stroke-width="1.7"/><ellipse cx="0" cy="0" rx="19.6" ry="32.6" fill="#e26fa7"/><g fill="#6b4416"><ellipse cx="-2.4" cy="-28.5" rx="1.7" ry="3.3"/><ellipse cx="6.1" cy="-22.0" rx="1.7" ry="3.3"/><ellipse cx="-8.5" cy="-12.6" rx="1.7" ry="3.3"/><ellipse cx="-2.3" cy="-11.5" rx="1.7" ry="3.3"/><ellipse cx="2.8" cy="-13.5" rx="1.7" ry="3.3"/><ellipse cx="13.9" cy="-7.0" rx="1.7" ry="3.3"/><ellipse cx="-15.0" cy="0.4" rx="1.7" ry="3.3"/><ellipse cx="-0.7" cy="3.2" rx="1.7" ry="3.3"/><ellipse cx="6.2" cy="-1.5" rx="1.7" ry="3.3"/><ellipse cx="-6.0" cy="11.3" rx="1.7" ry="3.3"/><ellipse cx="-0.1" cy="9.7" rx="1.7" ry="3.3"/><ellipse cx="11.3" cy="11.1" rx="1.7" ry="3.3"/><ellipse cx="-9.3" cy="23.1" rx="1.7" ry="3.3"/><ellipse cx="-3.7" cy="29.0" rx="1.7" ry="3.3"/><ellipse cx="8.4" cy="25.7" rx="1.7" ry="3.3"/><ellipse cx="-9.0" cy="-7.2" rx="1.7" ry="3.3"/><ellipse cx="-3.7" cy="-16.5" rx="1.7" ry="3.3"/><ellipse cx="8.9" cy="-3.3" rx="1.7" ry="3.3"/></g></g>
<g transform="translate(675.2 270.4)"><use href="#halo"/><use href="#base"/><ellipse cx="3.1" cy="2.6" rx="21.8" ry="37.6" fill="#d295b9" opacity="0.85"/><ellipse cx="-2.3" cy="-5.6" rx="21.8" ry="38.4" fill="#9a7a90" stroke="#989da1" stroke-width="1.7"/><ellipse cx="0" cy="0" rx="19.6" ry="32.6" fill="#e26fa7"/><g fill="#6b4416"><ellipse cx="0.9" cy="-27.9" rx="1.7" ry="3.3"/><ellipse cx="3.4" cy="-22.8" rx="1.7" ry="3.3"/><ellipse cx="-7.8" cy="-8.4" rx="1.7" ry="3.3"/><ellipse cx="-2.2" cy="-11.4" rx="1.7" ry="3.3"/><ellipse cx="4.5" cy="-9.8" rx="1.7" ry="3.3"/><ellipse cx="12.1" cy="-9.1" rx="1.7" ry="3.3"/><ellipse cx="-16.0" cy="0.1" rx="1.7" ry="3.3"/><ellipse cx="-1.3" cy="2.6" rx="1.7" ry="3.3"/><ellipse cx="8.7" cy="2.2" rx="1.7" ry="3.3"/><ellipse cx="-6.9" cy="6.5" rx="1.7" ry="3.3"/><ellipse cx="2.7" cy="10.7" rx="1.7" ry="3.3"/><ellipse cx="11.3" cy="11.3" rx="1.7" ry="3.3"/><ellipse cx="-10.0" cy="23.2" rx="1.7" ry="3.3"/><ellipse cx="-0.9" cy="25.9" rx="1.7" ry="3.3"/><ellipse cx="8.0" cy="23.7" rx="1.7" ry="3.3"/><ellipse cx="9.1" cy="-3.0" rx="1.7" ry="3.3"/><ellipse cx="-1.4" cy="-11.7" rx="1.7" ry="3.3"/></g></g>
<g transform="translate(472.6 161.6)"><use href="#halo"/><use href="#base"/><ellipse cx="3.1" cy="2.6" rx="21.8" ry="37.6" fill="#d295b9" opacity="0.85"/><ellipse cx="-2.3" cy="-5.6" rx="21.8" ry="38.4" fill="#9a7a90" stroke="#989da1" stroke-width="1.7"/><ellipse cx="0" cy="0" rx="19.6" ry="32.6" fill="#e26fa7"/><g fill="#6b4416"><ellipse cx="-0.7" cy="-27.9" rx="1.7" ry="3.3"/><ellipse cx="7.6" cy="-18.0" rx="1.7" ry="3.3"/><ellipse cx="-9.3" cy="-9.5" rx="1.7" ry="3.3"/><ellipse cx="-6.1" cy="-14.2" rx="1.7" ry="3.3"/><ellipse cx="2.7" cy="-9.7" rx="1.7" ry="3.3"/><ellipse cx="10.8" cy="-6.6" rx="1.7" ry="3.3"/><ellipse cx="-16.3" cy="1.0" rx="1.7" ry="3.3"/><ellipse cx="-5.2" cy="2.4" rx="1.7" ry="3.3"/><ellipse cx="5.7" cy="0.6" rx="1.7" ry="3.3"/><ellipse cx="-8.2" cy="9.3" rx="1.7" ry="3.3"/><ellipse cx="0.4" cy="8.7" rx="1.7" ry="3.3"/><ellipse cx="9.2" cy="8.4" rx="1.7" ry="3.3"/><ellipse cx="-13.3" cy="24.3" rx="1.7" ry="3.3"/><ellipse cx="-1.5" cy="27.3" rx="1.7" ry="3.3"/><ellipse cx="8.8" cy="22.9" rx="1.7" ry="3.3"/><ellipse cx="0.1" cy="1.5" rx="1.7" ry="3.3"/><ellipse cx="-0.2" cy="-8.4" rx="1.7" ry="3.3"/><ellipse cx="1.6" cy="-3.1" rx="1.7" ry="3.3"/><ellipse cx="6.9" cy="8.9" rx="1.7" ry="3.3"/></g></g>
<g transform="translate(523.2 161.6)"><use href="#halo"/><use href="#base"/><ellipse cx="3.1" cy="2.6" rx="21.8" ry="37.6" fill="#d295b9" opacity="0.85"/><ellipse cx="-2.3" cy="-5.6" rx="21.8" ry="38.4" fill="#9a7a90" stroke="#989da1" stroke-width="1.7"/><ellipse cx="0" cy="0" rx="19.6" ry="32.6" fill="#e26fa7"/><g fill="#6b4416"><ellipse cx="-2.9" cy="-25.4" rx="1.7" ry="3.3"/><ellipse cx="3.6" cy="-19.2" rx="1.7" ry="3.3"/><ellipse cx="-8.6" cy="-11.2" rx="1.7" ry="3.3"/><ellipse cx="-4.1" cy="-12.1" rx="1.7" ry="3.3"/><ellipse cx="1.5" cy="-10.7" rx="1.7" ry="3.3"/><ellipse cx="12.8" cy="-9.3" rx="1.7" ry="3.3"/><ellipse cx="-12.3" cy="4.2" rx="1.7" ry="3.3"/><ellipse cx="-3.7" cy="-0.8" rx="1.7" ry="3.3"/><ellipse cx="4.5" cy="2.7" rx="1.7" ry="3.3"/><ellipse cx="-6.4" cy="9.2" rx="1.7" ry="3.3"/><ellipse cx="0.6" cy="10.5" rx="1.7" ry="3.3"/><ellipse cx="8.1" cy="9.8" rx="1.7" ry="3.3"/><ellipse cx="-13.2" cy="23.1" rx="1.7" ry="3.3"/><ellipse cx="-1.7" cy="27.3" rx="1.7" ry="3.3"/><ellipse cx="5.6" cy="21.1" rx="1.7" ry="3.3"/><ellipse cx="-1.5" cy="2.7" rx="1.7" ry="3.3"/><ellipse cx="-5.6" cy="5.3" rx="1.7" ry="3.3"/><ellipse cx="0.7" cy="-2.3" rx="1.7" ry="3.3"/></g></g>
<g transform="translate(573.9 161.6)"><use href="#halo"/><use href="#base"/><ellipse cx="3.1" cy="2.6" rx="21.8" ry="37.6" fill="#d295b9" opacity="0.85"/><ellipse cx="-2.3" cy="-5.6" rx="21.8" ry="38.4" fill="#9a7a90" stroke="#989da1" stroke-width="1.7"/><ellipse cx="0" cy="0" rx="19.6" ry="32.6" fill="#e26fa7"/><g fill="#6b4416"><ellipse cx="1.3" cy="-26.4" rx="1.7" ry="3.3"/><ellipse cx="6.4" cy="-19.1" rx="1.7" ry="3.3"/><ellipse cx="-10.5" cy="-13.0" rx="1.7" ry="3.3"/><ellipse cx="-4.2" cy="-14.8" rx="1.7" ry="3.3"/><ellipse cx="3.2" cy="-8.6" rx="1.7" ry="3.3"/><ellipse cx="14.1" cy="-11.7" rx="1.7" ry="3.3"/><ellipse cx="-16.3" cy="1.1" rx="1.7" ry="3.3"/><ellipse cx="-1.5" cy="-2.1" rx="1.7" ry="3.3"/><ellipse cx="5.0" cy="-1.6" rx="1.7" ry="3.3"/><ellipse cx="-9.2" cy="8.6" rx="1.7" ry="3.3"/><ellipse cx="-0.7" cy="10.0" rx="1.7" ry="3.3"/><ellipse cx="10.7" cy="10.9" rx="1.7" ry="3.3"/><ellipse cx="-11.8" cy="24.1" rx="1.7" ry="3.3"/><ellipse cx="-2.0" cy="28.3" rx="1.7" ry="3.3"/><ellipse cx="5.6" cy="22.7" rx="1.7" ry="3.3"/><ellipse cx="6.1" cy="-4.2" rx="1.7" ry="3.3"/><ellipse cx="-2.6" cy="0.8" rx="1.7" ry="3.3"/></g></g>
<g transform="translate(624.5 161.6)"><use href="#halo"/><use href="#base"/><ellipse cx="3.1" cy="2.6" rx="21.8" ry="37.6" fill="#d295b9" opacity="0.85"/><ellipse cx="-2.3" cy="-5.6" rx="21.8" ry="38.4" fill="#9a7a90" stroke="#989da1" stroke-width="1.7"/><ellipse cx="0" cy="0" rx="19.6" ry="32.6" fill="#e26fa7"/><g fill="#6b4416"><ellipse cx="1.2" cy="-23.9" rx="1.7" ry="3.3"/><ellipse cx="6.5" cy="-22.1" rx="1.7" ry="3.3"/><ellipse cx="-9.9" cy="-9.2" rx="1.7" ry="3.3"/><ellipse cx="-3.2" cy="-15.4" rx="1.7" ry="3.3"/><ellipse cx="2.1" cy="-8.5" rx="1.7" ry="3.3"/><ellipse cx="10.3" cy="-8.5" rx="1.7" ry="3.3"/><ellipse cx="-15.1" cy="3.7" rx="1.7" ry="3.3"/><ellipse cx="-1.3" cy="1.3" rx="1.7" ry="3.3"/><ellipse cx="5.9" cy="-0.3" rx="1.7" ry="3.3"/><ellipse cx="-6.7" cy="9.3" rx="1.7" ry="3.3"/><ellipse cx="0.4" cy="10.3" rx="1.7" ry="3.3"/><ellipse cx="9.7" cy="8.2" rx="1.7" ry="3.3"/><ellipse cx="-13.0" cy="22.8" rx="1.7" ry="3.3"/><ellipse cx="-4.4" cy="26.9" rx="1.7" ry="3.3"/><ellipse cx="8.4" cy="25.5" rx="1.7" ry="3.3"/><ellipse cx="-3.3" cy="-2.6" rx="1.7" ry="3.3"/><ellipse cx="5.8" cy="5.5" rx="1.7" ry="3.3"/><ellipse cx="-8.2" cy="-4.2" rx="1.7" ry="3.3"/></g></g>
<g transform="translate(675.2 161.6)"><use href="#halo"/><use href="#base"/><ellipse cx="3.1" cy="2.6" rx="21.8" ry="37.6" fill="#d295b9" opacity="0.85"/><ellipse cx="-2.3" cy="-5.6" rx="21.8" ry="38.4" fill="#9a7a90" stroke="#989da1" stroke-width="1.7"/><ellipse cx="0" cy="0" rx="19.6" ry="32.6" fill="#e26fa7"/><g fill="#6b4416"><ellipse cx="0.8" cy="-27.0" rx="1.7" ry="3.3"/><ellipse cx="6.8" cy="-17.8" rx="1.7" ry="3.3"/><ellipse cx="-10.0" cy="-8.9" rx="1.7" ry="3.3"/><ellipse cx="-5.5" cy="-14.5" rx="1.7" ry="3.3"/><ellipse cx="3.0" cy="-9.4" rx="1.7" ry="3.3"/><ellipse cx="10.4" cy="-8.4" rx="1.7" ry="3.3"/><ellipse cx="-14.9" cy="0.8" rx="1.7" ry="3.3"/><ellipse cx="-3.4" cy="0.1" rx="1.7" ry="3.3"/><ellipse cx="6.2" cy="3.1" rx="1.7" ry="3.3"/><ellipse cx="-5.2" cy="6.9" rx="1.7" ry="3.3"/><ellipse cx="3.3" cy="11.2" rx="1.7" ry="3.3"/><ellipse cx="11.8" cy="11.5" rx="1.7" ry="3.3"/><ellipse cx="-11.3" cy="20.9" rx="1.7" ry="3.3"/><ellipse cx="-0.3" cy="29.3" rx="1.7" ry="3.3"/><ellipse cx="7.5" cy="21.2" rx="1.7" ry="3.3"/><ellipse cx="10.0" cy="-3.0" rx="1.7" ry="3.3"/><ellipse cx="-0.4" cy="-7.8" rx="1.7" ry="3.3"/></g></g>
</g>
<rect x="445.5" y="99.4" width="263.5" height="344.4" fill="none" stroke="#231f20" stroke-width="2.6"/>
<path fill="#231f20" d="M308.8 258.7H394.8L388.9 241.95Q407.4 256.6 434.0 267.25Q407.4 277.9 388.9 292.55L394.8 275.8H308.8Z"/>
<path fill="#231f20" d="M721.1 254.29999999999998H905.6L899.8 237.79999999999998Q918.2 252.2 944.6 262.7Q918.2 273.2 899.8 287.59999999999997L905.6 271.09999999999997H721.1Z"/>
<rect x="1079.65" y="410.0" width="34.9" height="37.0" fill="#0b0706"/>
<line x1="1097.1" y1="404.0" x2="1097.1" y2="411.0" stroke="#0b0706" stroke-width="3.4"/>
<line x1="1088.5" y1="404.0" x2="1104.3" y2="404.0" stroke="#0b0706" stroke-width="3.4" stroke-linecap="round"/>
<rect x="1131.98" y="290.6" width="34.9" height="156.4" fill="#f0b25e"/>
<line x1="1149.43" y1="281.0" x2="1149.43" y2="291.6" stroke="#f0b25e" stroke-width="3.4"/>
<line x1="1140.83" y1="281.0" x2="1156.63" y2="281.0" stroke="#f0b25e" stroke-width="3.4" stroke-linecap="round"/>
<rect x="1184.31" y="238.2" width="34.9" height="208.8" fill="#438aab"/>
<line x1="1201.76" y1="233.2" x2="1201.76" y2="239.2" stroke="#438aab" stroke-width="3.4"/>
<line x1="1193.16" y1="233.2" x2="1208.96" y2="233.2" stroke="#438aab" stroke-width="3.4" stroke-linecap="round"/>
<rect x="1236.64" y="428.0" width="34.9" height="19.0" fill="#62a888"/>
<line x1="1254.09" y1="421.1" x2="1254.09" y2="429.0" stroke="#62a888" stroke-width="3.4"/>
<line x1="1245.49" y1="421.1" x2="1261.29" y2="421.1" stroke="#62a888" stroke-width="3.4" stroke-linecap="round"/>
<rect x="1288.97" y="231.9" width="34.9" height="215.1" fill="#c45c72"/>
<line x1="1306.42" y1="211.3" x2="1306.42" y2="232.9" stroke="#c45c72" stroke-width="3.4"/>
<line x1="1297.82" y1="211.3" x2="1313.62" y2="211.3" stroke="#c45c72" stroke-width="3.4" stroke-linecap="round"/>
<rect x="1341.30" y="129.5" width="34.9" height="317.5" fill="#5875b0"/>
<line x1="1358.75" y1="110.0" x2="1358.75" y2="130.5" stroke="#5875b0" stroke-width="3.4"/>
<line x1="1350.15" y1="110.0" x2="1365.95" y2="110.0" stroke="#5875b0" stroke-width="3.4" stroke-linecap="round"/>
<line x1="1062.2" y1="78.2" x2="1062.2" y2="448.8" stroke="#000" stroke-width="3.6" stroke-linecap="round"/>
<line x1="1041.3" y1="79.95" x2="1062.2" y2="79.95" stroke="#000" stroke-width="3.5" stroke-linecap="round"/>
<line x1="1041.3" y1="153.3" x2="1062.2" y2="153.3" stroke="#000" stroke-width="3.5" stroke-linecap="round"/>
<line x1="1041.3" y1="226.8" x2="1062.2" y2="226.8" stroke="#000" stroke-width="3.5" stroke-linecap="round"/>
<line x1="1041.3" y1="300.2" x2="1062.2" y2="300.2" stroke="#000" stroke-width="3.5" stroke-linecap="round"/>
<line x1="1041.3" y1="373.6" x2="1062.2" y2="373.6" stroke="#000" stroke-width="3.5" stroke-linecap="round"/>
<line x1="1041.3" y1="447" x2="1395.7" y2="447" stroke="#000" stroke-width="3.7" stroke-linecap="round"/>
<line x1="1097.1" y1="447" x2="1097.1" y2="462.4" stroke="#000" stroke-width="3.5" stroke-linecap="round"/>
<line x1="1149.43" y1="447" x2="1149.43" y2="462.4" stroke="#000" stroke-width="3.5" stroke-linecap="round"/>
<line x1="1201.76" y1="447" x2="1201.76" y2="462.4" stroke="#000" stroke-width="3.5" stroke-linecap="round"/>
<line x1="1254.09" y1="447" x2="1254.09" y2="462.4" stroke="#000" stroke-width="3.5" stroke-linecap="round"/>
<line x1="1306.42" y1="447" x2="1306.42" y2="462.4" stroke="#000" stroke-width="3.5" stroke-linecap="round"/>
<line x1="1358.75" y1="447" x2="1358.75" y2="462.4" stroke="#000" stroke-width="3.5" stroke-linecap="round"/>
<text font-size="31" transform="translate(997.79 167.4) scale(1.0330 1.045)">8</text>
<text font-size="31" transform="translate(997.32 315.3) scale(1.0330 1.045)">4</text>
<text font-size="31" transform="translate(997.79 465.3) scale(1.0330 1.045)">0</text>
<text font-size="31" transform="translate(986.4 422.13) rotate(-90) scale(1.0102 1.045)">Relative</text>
<text font-size="31" transform="translate(986.4 280.46) rotate(-90) scale(1.0242 1.045)">FA level</text>
</g>
<g id="panelB">
<text font-size="38" transform="translate(1431.78 44.7) scale(1.0450 1.045)">B</text>
<text font-size="31" transform="translate(1748.24 27.0) scale(1.0391 1.045)">GSC4121</text>
<line x1="1613.9" y1="27.1" x2="1613.9" y2="533.9" stroke="#000" stroke-width="2.4"/>
<line x1="1593.6" y1="90.4" x2="1613.9" y2="90.4" stroke="#000" stroke-width="2.4"/>
<line x1="1593.6" y1="217.1" x2="1613.9" y2="217.1" stroke="#000" stroke-width="2.4"/>
<line x1="1593.6" y1="470.7" x2="1613.9" y2="470.7" stroke="#000" stroke-width="2.4"/>
<line x1="1593.6" y1="344.2" x2="1951.9" y2="344.2" stroke="#000" stroke-width="2.4"/>
<line x1="1624.1" y1="342.35" x2="1624.1" y2="344" stroke="#111" stroke-width="2.0"/>
<line x1="1634.3" y1="342.35" x2="1634.3" y2="344" stroke="#111" stroke-width="2.0"/>
<line x1="1644.4" y1="342.35" x2="1644.4" y2="344" stroke="#111" stroke-width="2.0"/>
<line x1="1654.6" y1="342.35" x2="1654.6" y2="344" stroke="#111" stroke-width="2.0"/>
<line x1="1664.7" y1="342.35" x2="1664.7" y2="344" stroke="#111" stroke-width="2.0"/>
<line x1="1674.9" y1="342.35" x2="1674.9" y2="344" stroke="#111" stroke-width="2.0"/>
<line x1="1685.1" y1="342.35" x2="1685.1" y2="344" stroke="#111" stroke-width="2.0"/>
<line x1="1695.2" y1="342.35" x2="1695.2" y2="344" stroke="#111" stroke-width="2.0"/>
<line x1="1705.4" y1="342.35" x2="1705.4" y2="344" stroke="#111" stroke-width="2.0"/>
<line x1="1715.5" y1="342.35" x2="1715.5" y2="344" stroke="#111" stroke-width="2.0"/>
<line x1="1725.7" y1="342.35" x2="1725.7" y2="344" stroke="#111" stroke-width="2.0"/>
<line x1="1735.9" y1="342.35" x2="1735.9" y2="344" stroke="#111" stroke-width="2.0"/>
<line x1="1746.0" y1="342.35" x2="1746.0" y2="344" stroke="#111" stroke-width="2.0"/>
<line x1="1756.2" y1="342.35" x2="1756.2" y2="344" stroke="#111" stroke-width="2.0"/>
<line x1="1766.3" y1="342.35" x2="1766.3" y2="344" stroke="#111" stroke-width="2.0"/>
<line x1="1776.5" y1="342.35" x2="1776.5" y2="344" stroke="#111" stroke-width="2.0"/>
<line x1="1786.7" y1="342.35" x2="1786.7" y2="344" stroke="#111" stroke-width="2.0"/>
<line x1="1796.8" y1="342.35" x2="1796.8" y2="344" stroke="#111" stroke-width="2.0"/>
<line x1="1807.0" y1="342.35" x2="1807.0" y2="344" stroke="#111" stroke-width="2.0"/>
<line x1="1817.1" y1="342.35" x2="1817.1" y2="344" stroke="#111" stroke-width="2.0"/>
<line x1="1827.3" y1="342.35" x2="1827.3" y2="344" stroke="#111" stroke-width="2.0"/>
<line x1="1837.5" y1="342.35" x2="1837.5" y2="344" stroke="#111" stroke-width="2.0"/>
<line x1="1847.6" y1="342.35" x2="1847.6" y2="344" stroke="#111" stroke-width="2.0"/>
<line x1="1857.8" y1="342.35" x2="1857.8" y2="344" stroke="#111" stroke-width="2.0"/>
<line x1="1867.9" y1="342.35" x2="1867.9" y2="344" stroke="#111" stroke-width="2.0"/>
<line x1="1878.1" y1="342.35" x2="1878.1" y2="344" stroke="#111" stroke-width="2.0"/>
<line x1="1888.3" y1="342.35" x2="1888.3" y2="344" stroke="#111" stroke-width="2.0"/>
<line x1="1898.4" y1="342.35" x2="1898.4" y2="344" stroke="#111" stroke-width="2.0"/>
<line x1="1908.6" y1="342.35" x2="1908.6" y2="344" stroke="#111" stroke-width="2.0"/>
<line x1="1918.7" y1="342.35" x2="1918.7" y2="344" stroke="#111" stroke-width="2.0"/>
<line x1="1928.9" y1="342.35" x2="1928.9" y2="344" stroke="#111" stroke-width="2.0"/>
<line x1="1939.1" y1="342.35" x2="1939.1" y2="344" stroke="#111" stroke-width="2.0"/>
<line x1="1949.2" y1="342.35" x2="1949.2" y2="344" stroke="#111" stroke-width="2.0"/>
<text font-size="31" transform="translate(1549.67 96.5) scale(1.0330 1.045)">4</text>
<text font-size="31" transform="translate(1549.84 222.9) scale(1.0330 1.045)">2</text>
<text font-size="31" transform="translate(1549.84 349.8) scale(1.0330 1.045)">0</text>
<text font-size="31" transform="translate(1537.70 476.9) scale(1.0330 1.045)">-2</text>
<text font-size="31" transform="translate(1492.5 414.85) rotate(-90) scale(1.0263 1.045)">log<tspan font-size="18.5" dy="10.2">2</tspan><tspan dy="-10.2">(Fold chang of FA)</tspan></text>
<g fill="#3787c8"><circle cx="1615.5" cy="86.8" r="7.5"/><circle cx="1622.7" cy="113.4" r="7.5"/><circle cx="1626.4" cy="113.7" r="7.5"/><circle cx="1629.3" cy="150.4" r="7.5"/><circle cx="1633.8" cy="150.4" r="7.5"/><circle cx="1636.7" cy="170.5" r="7.5"/><circle cx="1640.4" cy="176.0" r="7.5"/><circle cx="1644.0" cy="187.0" r="7.5"/><circle cx="1648.0" cy="188.7" r="7.5"/><circle cx="1651.4" cy="192.4" r="7.5"/><circle cx="1654.5" cy="209.6" r="7.5"/><circle cx="1658.2" cy="209.3" r="7.5"/><circle cx="1663.1" cy="214.3" r="7.5"/><circle cx="1667.3" cy="220.6" r="7.5"/><circle cx="1670.7" cy="220.8" r="7.5"/><circle cx="1674.0" cy="221.0" r="7.5"/><circle cx="1679.2" cy="227.7" r="7.5"/><circle cx="1682.6" cy="228.1" r="7.5"/><circle cx="1686.0" cy="228.6" r="7.5"/><circle cx="1691.1" cy="231.1" r="7.5"/><circle cx="1694.1" cy="235.4" r="7.5"/><circle cx="1697.1" cy="239.7" r="7.5"/><circle cx="1700.9" cy="240.1" r="7.5"/><circle cx="1704.8" cy="240.5" r="7.5"/><circle cx="1709.9" cy="242.7" r="7.5"/><circle cx="1713.3" cy="244.1" r="7.5"/><circle cx="1716.7" cy="245.6" r="7.5"/><circle cx="1720.5" cy="245.6" r="7.5"/><circle cx="1724.2" cy="245.6" r="7.5"/><circle cx="1728.0" cy="245.6" r="7.5"/><circle cx="1731.7" cy="245.6" r="7.5"/><circle cx="1735.5" cy="245.6" r="7.5"/><circle cx="1738.9" cy="246.9" r="7.5"/><circle cx="1742.3" cy="248.2" r="7.5"/><circle cx="1745.7" cy="249.4" r="7.5"/><circle cx="1749.1" cy="250.7" r="7.5"/><circle cx="1752.5" cy="250.7" r="7.5"/><circle cx="1755.9" cy="250.7" r="7.5"/><circle cx="1759.3" cy="250.7" r="7.5"/><circle cx="1762.7" cy="250.7" r="7.5"/><circle cx="1766.6" cy="252.0" r="7.5"/><circle cx="1770.4" cy="253.3" r="7.5"/><circle cx="1773.8" cy="263.5" r="7.5"/><circle cx="1778.0" cy="265.2" r="7.5"/><circle cx="1781.4" cy="265.4" r="7.5"/><circle cx="1784.8" cy="265.6" r="7.5"/><circle cx="1788.3" cy="265.9" r="7.5"/><circle cx="1791.7" cy="266.1" r="7.5"/><circle cx="1796.8" cy="271.2" r="7.5"/><circle cx="1801.0" cy="273.8" r="7.5"/><circle cx="1805.3" cy="276.3" r="7.5"/><circle cx="1809.6" cy="277.1" r="7.5"/><circle cx="1813.9" cy="278.0" r="7.5"/><circle cx="1817.3" cy="280.6" r="7.5"/><circle cx="1820.7" cy="283.1" r="7.5"/><circle cx="1825.0" cy="290.0" r="7.5"/><circle cx="1828.4" cy="291.4" r="7.5"/><circle cx="1831.8" cy="292.8" r="7.5"/><circle cx="1835.2" cy="294.2" r="7.5"/><circle cx="1842.0" cy="307.4" r="7.5"/><circle cx="1845.6" cy="307.4" r="7.5"/><circle cx="1849.2" cy="307.4" r="7.5"/><circle cx="1852.5" cy="318.1" r="7.5"/><circle cx="1856.3" cy="344.0" r="7.5"/><circle cx="1859.9" cy="351.2" r="7.5"/><circle cx="1863.6" cy="353.9" r="7.5"/><circle cx="1867.3" cy="356.7" r="7.5"/><circle cx="1870.5" cy="370.8" r="7.5"/><circle cx="1874.8" cy="384.3" r="7.5"/><circle cx="1878.0" cy="386.1" r="7.5"/><circle cx="1881.3" cy="387.9" r="7.5"/><circle cx="1885.4" cy="397.1" r="7.5"/><circle cx="1888.5" cy="401.2" r="7.5"/><circle cx="1892.1" cy="402.2" r="7.5"/><circle cx="1895.7" cy="403.3" r="7.5"/><circle cx="1898.7" cy="412.5" r="7.5"/><circle cx="1902.8" cy="415.5" r="7.5"/><circle cx="1906.9" cy="422.7" r="7.5"/><circle cx="1912.0" cy="428.8" r="7.5"/><circle cx="1917.1" cy="436.0" r="7.5"/><circle cx="1921.2" cy="445.2" r="7.5"/><circle cx="1925.3" cy="448.3" r="7.5"/><circle cx="1928.3" cy="447.8" r="7.5"/><circle cx="1931.4" cy="447.2" r="7.5"/><circle cx="1935.5" cy="449.2" r="7.5"/><circle cx="1939.6" cy="451.3" r="7.5"/><circle cx="1942.7" cy="457.5" r="7.5"/><circle cx="1946.4" cy="471.8" r="7.5"/><circle cx="1949.9" cy="473.8" r="7.5"/></g>
<circle cx="1618.8" cy="101.1" r="7.7" fill="#ed2939"/>
<text font-size="31" transform="translate(1633.24 106.3) scale(1.0258 1.045)">FoxM1 (p&lt;0.001)</text>
</g>
<g id="panelC">
<text font-size="38" transform="translate(-0.25 570.3) scale(1.0250 1.045)">C</text>
<text font-size="31" transform="translate(231.07 593.2) scale(1.0330 1.045)">NB</text>
<text font-size="31" fill="#ed2224" transform="translate(347.00 593.2) scale(1.0330 1.045)">GBM</text>
<line x1="187.9" y1="605.1" x2="304" y2="605.1" stroke="#000" stroke-width="3.5"/>
<line x1="322.2" y1="605.1" x2="440.7" y2="605.1" stroke="#ed2224" stroke-width="3.5"/>
<text font-size="31" transform="translate(303.78 648.8) scale(1.0330 1.045)">***</text>
<path d="M262.3 985.7V649.3H381.5V679.7" fill="none" stroke="#000" stroke-width="3.3" stroke-linecap="square"/>
<line x1="326.2" y1="679.7" x2="437" y2="679.7" stroke="#000" stroke-width="3.3"/>
<line x1="185.4" y1="985.7" x2="304" y2="985.7" stroke="#000" stroke-width="3.3"/>
<text font-size="31" transform="translate(78.1 959.94) rotate(-90) scale(0.9754 1.045)">Relative FA level</text>
<text font-size="31" transform="translate(105.83 624.4) scale(1.0330 1.045)">15</text>
<text font-size="31" transform="translate(105.68 793.1) scale(1.0330 1.045)">10</text>
<text font-size="31" transform="translate(127.84 962.2) scale(1.0330 1.045)">5</text>
<text font-size="31" transform="translate(127.64 1131.0) scale(1.0330 1.045)">0</text>
<rect x="188.4" y="1091" width="13.9" height="26.4" fill="#fff" stroke="#000" stroke-width="2.4"/>
<g fill="#0b0706"><circle cx="192" cy="1088" r="6.6"/><circle cx="195.3" cy="1083" r="6.6"/><circle cx="199.3" cy="1087.4" r="6.6"/></g>
<rect x="221.2" y="1098" width="13.9" height="19.4" fill="#fff" stroke="#000" stroke-width="2.4"/>
<g fill="#0b0706"><circle cx="228.1" cy="1091" r="6.6"/><circle cx="224.7" cy="1100.5" r="6.6"/><circle cx="232.1" cy="1096" r="6.6"/></g>
<rect x="253.9" y="1110" width="13.9" height="7.4" fill="#fff" stroke="#000" stroke-width="2.4"/>
<g fill="#0b0706"><circle cx="256.9" cy="1109.2" r="6.6"/><circle cx="260.9" cy="1105.3" r="6.6"/><circle cx="264.9" cy="1107.9" r="6.6"/></g>
<rect x="286.1" y="1085" width="13.9" height="32.4" fill="#fff" stroke="#000" stroke-width="2.4"/>
<g fill="#0b0706"><circle cx="289.3" cy="1085" r="6.6"/><circle cx="293.1" cy="1080" r="6.6"/><circle cx="297.3" cy="1081.6" r="6.6"/></g>
<rect x="324.7" y="972.5" width="14.1" height="144.9" fill="#fff" stroke="#ee3a2b" stroke-width="2.4"/>
<g fill="#ee3a2b"><circle cx="331" cy="962.3" r="7.6"/><circle cx="327.5" cy="972.3" r="7.6"/><circle cx="335.8" cy="970.7" r="7.6"/></g>
<rect x="357.4" y="856.1" width="14.1" height="261.3" fill="#fff" stroke="#ee3a2b" stroke-width="2.4"/>
<line x1="364.4" y1="787.1" x2="364.4" y2="918.1" stroke="#ee3a2b" stroke-width="2.4"/>
<line x1="358.09999999999997" y1="787.1" x2="370.7" y2="787.1" stroke="#ee3a2b" stroke-width="2.4"/>
<line x1="358.09999999999997" y1="918.1" x2="370.7" y2="918.1" stroke="#ee3a2b" stroke-width="2.4"/>
<g fill="#ee3a2b"><circle cx="361.4" cy="807.6" r="7.6"/><circle cx="367.6" cy="822.2" r="7.6"/><circle cx="364.2" cy="927.7" r="7.6"/></g>
<rect x="389.8" y="938.4" width="14.1" height="179.0" fill="#fff" stroke="#ee3a2b" stroke-width="2.4"/>
<line x1="396.7" y1="901.4" x2="396.7" y2="973.1" stroke="#ee3a2b" stroke-width="2.4"/>
<g fill="#ee3a2b"><circle cx="396.7" cy="901.4" r="7.6"/><circle cx="396.7" cy="938.4" r="7.6"/><circle cx="396.7" cy="973.1" r="7.6"/></g>
<rect x="423.0" y="763.0" width="14.1" height="354.4" fill="#fff" stroke="#ee3a2b" stroke-width="2.4"/>
<line x1="429.9" y1="743" x2="429.9" y2="781.4" stroke="#ee3a2b" stroke-width="2.4"/>
<g fill="#ee3a2b"><circle cx="429.4" cy="742.7" r="7.6"/><circle cx="429.6" cy="757.7" r="7.6"/><circle cx="429.6" cy="781.4" r="7.6"/></g>
<line x1="173.4" y1="609.4" x2="173.4" y2="1117.4" stroke="#000" stroke-width="2.6"/>
<line x1="153.1" y1="610.7" x2="173.4" y2="610.7" stroke="#000" stroke-width="2.6"/>
<line x1="153.1" y1="779.5" x2="173.4" y2="779.5" stroke="#000" stroke-width="2.6"/>
<line x1="153.1" y1="948.3" x2="173.4" y2="948.3" stroke="#000" stroke-width="2.6"/>
<line x1="153.1" y1="1117.4" x2="458.5" y2="1117.4" stroke="#000" stroke-width="3.0"/>
<text font-size="31" transform="translate(709.42 752.9) scale(1.0330 1.045)">NB</text>
<text font-size="31" fill="#ed2224" transform="translate(866.90 752.9) scale(1.0330 1.045)">GBM</text>
<line x1="664.8" y1="764.7" x2="813.9" y2="764.7" stroke="#000" stroke-width="3.2"/>
<line x1="835.3" y1="764.7" x2="984.3" y2="764.7" stroke="#ed2224" stroke-width="3.2"/>
<text font-size="31" transform="translate(551.01 858.9) scale(1.0450 1.045)">FoxM1</text>
<text font-size="31" transform="translate(551.47 960.3) scale(1.0364 1.045)">β-actin</text>
<g clip-path="url(#cw1)">
<rect x="661" y="796" width="325.3" height="90.1" fill="url(#gBlot1)"/>
<rect x="661" y="796" width="325.3" height="90.1" fill="url(#gBlot1v)"/>
<g filter="url(#bb3)"><ellipse cx="700" cy="815" rx="45" ry="22" fill="#f1f1f2" opacity="0.8"/><ellipse cx="775" cy="850" rx="30" ry="40" fill="#eaeaeb" opacity="0.8"/><ellipse cx="930" cy="800" rx="80" ry="14" fill="#c2c3c6" opacity="0.8"/><ellipse cx="888" cy="880" rx="14" ry="12" fill="#cacacd" opacity="0.8"/></g>
<g filter="url(#bb4)"><rect x="954" y="838" width="26" height="52" fill="#a9a9ad" opacity="0.75"/><rect x="977.5" y="838" width="2.5" height="52" fill="#77777b" opacity="0.7"/></g>
<g filter="url(#bb2)"><ellipse cx="684.3" cy="846.4" rx="17.3" ry="8.0" fill="#505053" opacity="0.26"/><ellipse cx="725.3" cy="840.5" rx="17.3" ry="8.4" fill="#505053" opacity="0.38"/><ellipse cx="806.8" cy="835.0999999999999" rx="17.3" ry="8.3" fill="#505053" opacity="0.42"/><ellipse cx="847.4" cy="832.5999999999999" rx="17.0" ry="9.0" fill="#505053" opacity="0.59"/><ellipse cx="887.4" cy="831.3" rx="17.8" ry="10.9" fill="#505053" opacity="0.68"/><ellipse cx="926.7" cy="831.6999999999999" rx="17.3" ry="9.3" fill="#505053" opacity="0.59"/><ellipse cx="967.6" cy="831.0999999999999" rx="17.8" ry="12.9" fill="#505053" opacity="0.77"/></g>
<g filter="url(#bb)"><rect x="670.0" y="845.1" width="28.6" height="5.0" rx="1.8" fill="#8c8c8c" opacity="0.8" transform="rotate(-9 684.3 847.6)"/></g>
<g filter="url(#bb)"><rect x="711.0" y="838.8000000000001" width="28.6" height="5.8" rx="1.8" fill="#4c4c4c" opacity="0.95" transform="rotate(-2 725.3 841.7)"/></g>
<g filter="url(#bb)"><rect x="792.5" y="833.5" width="28.6" height="5.6" rx="1.8" fill="#444444" opacity="0.95" transform="rotate(1 806.8 836.3)"/></g>
<g filter="url(#bb)"><rect x="833.4" y="830.3" width="28.0" height="7.0" rx="1.8" fill="#101010" opacity="1" transform="rotate(0 847.4 833.8)"/></g>
<g filter="url(#bb)"><rect x="872.6" y="827.1" width="29.6" height="10.8" rx="1.8" fill="#070707" opacity="1" transform="rotate(0 887.4 832.5)"/></g>
<g filter="url(#bb)"><rect x="912.4000000000001" y="829.1" width="28.6" height="7.6" rx="1.8" fill="#0d0d0d" opacity="1" transform="rotate(0 926.7 832.9)"/></g>
<g filter="url(#bb)"><rect x="952.8000000000001" y="824.9" width="29.6" height="14.8" rx="1.8" fill="#050505" opacity="1" transform="rotate(0 967.6 832.3)"/></g>
</g>
<g clip-path="url(#cw2)">
<rect x="659.5" y="896.1" width="326.9" height="84.6" fill="url(#gBlot2)"/>
<rect x="659.5" y="896.1" width="326.9" height="84.6" fill="url(#gBlot2v)"/>
<g filter="url(#bb3)"><path d="M676 938L766 932L844 925L922 926L975 922" fill="none" stroke="#8f8f95" stroke-width="26" opacity="0.75"/><ellipse cx="862" cy="902" rx="13" ry="10" fill="#85858a" opacity="0.85"/><ellipse cx="940" cy="900" rx="50" ry="9" fill="#a9a9ae" opacity="0.7"/><path d="M655 890L760 890L700 915L655 950Z" fill="#f6f6f6" opacity="0.95"/><ellipse cx="880" cy="973" rx="45" ry="12" fill="#e6e6e8" opacity="0.85"/><ellipse cx="720" cy="978" rx="70" ry="9" fill="#dcdcde" opacity="0.7"/></g>
<g filter="url(#bb2)"><ellipse cx="688.9" cy="950.9" rx="17.3" ry="8.2" fill="#444447" opacity="0.65"/><ellipse cx="727.9" cy="948.5" rx="17.1" ry="8.3" fill="#444447" opacity="0.65"/><ellipse cx="766.3" cy="946.0999999999999" rx="17.3" ry="9.2" fill="#444447" opacity="0.65"/><ellipse cx="804.6" cy="942.6999999999999" rx="17.0" ry="8.6" fill="#444447" opacity="0.65"/><ellipse cx="843.8" cy="939.4" rx="17.4" ry="9.4" fill="#444447" opacity="0.65"/><ellipse cx="883.3" cy="939.5999999999999" rx="17.3" ry="8.8" fill="#444447" opacity="0.65"/><ellipse cx="922.2" cy="939.5999999999999" rx="16.6" ry="8.3" fill="#444447" opacity="0.65"/><ellipse cx="961.4" cy="936.5999999999999" rx="16.8" ry="7.8" fill="#444447" opacity="0.65"/></g>
<g filter="url(#bb)" fill="#080808" transform="rotate(-1 688.9 952.1)"><rect x="674.6" y="949.4" width="28.6" height="5.4" rx="1.8"/><ellipse cx="677.6" cy="952.1" rx="3.4" ry="3.8"/><ellipse cx="700.2" cy="952.1" rx="3.4" ry="3.8"/></g>
<g filter="url(#bb)" fill="#080808" transform="rotate(-5 727.9 949.7)"><rect x="713.8" y="946.9000000000001" width="28.2" height="5.6" rx="1.8"/><ellipse cx="716.8" cy="949.7" rx="3.4" ry="3.9"/><ellipse cx="739.0" cy="949.7" rx="3.4" ry="3.9"/></g>
<g filter="url(#bb)" fill="#080808" transform="rotate(0 766.3 947.3)"><rect x="752.0" y="943.5999999999999" width="28.6" height="7.4" rx="1.8"/><ellipse cx="755.0" cy="947.3" rx="3.4" ry="4.8"/><ellipse cx="777.6" cy="947.3" rx="3.4" ry="4.8"/></g>
<g filter="url(#bb)" fill="#080808" transform="rotate(-5 804.6 943.9)"><rect x="790.6" y="940.8" width="28.0" height="6.2" rx="1.8"/><ellipse cx="793.6" cy="943.9" rx="3.4" ry="4.2"/><ellipse cx="815.6" cy="943.9" rx="3.4" ry="4.2"/></g>
<g filter="url(#bb)" fill="#080808" transform="rotate(0 843.8 940.6)"><rect x="829.4" y="936.7" width="28.8" height="7.8" rx="1.8"/><ellipse cx="832.4" cy="940.6" rx="3.4" ry="5.0"/><ellipse cx="855.2" cy="940.6" rx="3.4" ry="5.0"/></g>
<g filter="url(#bb)" fill="#080808" transform="rotate(0 883.3 940.8)"><rect x="869.0" y="937.5" width="28.6" height="6.6" rx="1.8"/><ellipse cx="872.0" cy="940.8" rx="3.4" ry="4.4"/><ellipse cx="894.6" cy="940.8" rx="3.4" ry="4.4"/></g>
<g filter="url(#bb)" fill="#080808" transform="rotate(-1 922.2 940.8)"><rect x="908.6" y="938.0" width="27.2" height="5.6" rx="1.8"/><ellipse cx="911.6" cy="940.8" rx="3.4" ry="3.9"/><ellipse cx="932.8" cy="940.8" rx="3.4" ry="3.9"/></g>
<g filter="url(#bb)" fill="#080808" transform="rotate(-1 961.4 937.8)"><rect x="947.6" y="935.5" width="27.6" height="4.6" rx="1.8"/><ellipse cx="950.6" cy="937.8" rx="3.4" ry="3.4"/><ellipse cx="972.2" cy="937.8" rx="3.4" ry="3.4"/></g>
</g>
</g>
<g id="panelD">
<text font-size="38" transform="translate(1085.63 570.7) scale(1.0222 1.045)">D</text>
<text font-size="31" transform="translate(1411.91 613.1) scale(0.9943 1.045)">R<tspan font-size="18.3" dy="-9.4">2</tspan><tspan dy="9.4">=0.386,p&lt;0.001,n=112</tspan></text>
<text font-size="31" transform="translate(1109.8 999.48) rotate(-90) scale(0.9915 1.045)">Relative FoxM1 level</text>
<text font-size="31" transform="translate(1475.85 1162.6) scale(0.9794 1.045)">Relative FA level</text>
<text font-size="31" transform="translate(1152.84 626.6) scale(1.0330 1.045)">8</text>
<text font-size="31" transform="translate(1152.17 847.7) scale(1.0330 1.045)">4</text>
<text font-size="31" transform="translate(1154.19 1068.6) scale(1.0330 1.045)">0</text>
<text font-size="31" transform="translate(1188.69 1120.4) scale(1.0330 1.045)">0</text>
<text font-size="31" transform="translate(1344.89 1120.4) scale(1.0330 1.045)">2</text>
<text font-size="31" transform="translate(1491.12 1120.4) scale(1.0330 1.045)">4</text>
<text font-size="31" transform="translate(1644.49 1120.4) scale(1.0330 1.045)">6</text>
<text font-size="31" transform="translate(1802.24 1120.4) scale(1.0330 1.045)">8</text>
<text font-size="31" transform="translate(1939.38 1120.4) scale(1.0330 1.045)">10</text>
<line x1="1201" y1="929.6" x2="1872.8" y2="785.1" stroke="#ee3a2b" stroke-width="2.4"/>
<g fill="#0b0706"><ellipse cx="1201.0" cy="982.1" rx="7.7" ry="6.6"/><ellipse cx="1208.2" cy="988.5" rx="7.7" ry="6.6"/><ellipse cx="1210.5" cy="980.7" rx="7.7" ry="6.6"/><ellipse cx="1214.6" cy="973.7" rx="7.7" ry="6.6"/><ellipse cx="1216.5" cy="983.3" rx="7.7" ry="6.6"/><ellipse cx="1228.9" cy="956.8" rx="7.7" ry="6.6"/><ellipse cx="1225.1" cy="1001.7" rx="7.7" ry="6.6"/><ellipse cx="1239.7" cy="979.5" rx="7.7" ry="6.6"/><ellipse cx="1239.7" cy="995.7" rx="7.7" ry="6.6"/><ellipse cx="1248.0" cy="990.2" rx="7.7" ry="6.6"/><ellipse cx="1249.7" cy="959.9" rx="7.7" ry="6.6"/><ellipse cx="1252.1" cy="972.3" rx="7.7" ry="6.6"/><ellipse cx="1252.8" cy="977.8" rx="7.7" ry="6.6"/><ellipse cx="1258.3" cy="958.2" rx="7.7" ry="6.6"/><ellipse cx="1256.4" cy="1001.2" rx="7.7" ry="6.6"/><ellipse cx="1264.5" cy="990.2" rx="7.7" ry="6.6"/><ellipse cx="1265.2" cy="841.5" rx="7.7" ry="6.6"/><ellipse cx="1270.2" cy="860.1" rx="7.7" ry="6.6"/><ellipse cx="1277.9" cy="855.4" rx="7.7" ry="6.6"/><ellipse cx="1271.4" cy="868.7" rx="7.7" ry="6.6"/><ellipse cx="1280.2" cy="864.4" rx="7.7" ry="6.6"/><ellipse cx="1279.8" cy="879.5" rx="7.7" ry="6.6"/><ellipse cx="1294.6" cy="844.4" rx="7.7" ry="6.6"/><ellipse cx="1293.4" cy="855.8" rx="7.7" ry="6.6"/><ellipse cx="1322.2" cy="875.9" rx="7.7" ry="6.6"/><ellipse cx="1338.7" cy="902.1" rx="7.7" ry="6.6"/><ellipse cx="1337.3" cy="907.4" rx="7.7" ry="6.6"/><ellipse cx="1379.0" cy="893.1" rx="7.7" ry="6.6"/><ellipse cx="1360.2" cy="946.3" rx="7.7" ry="6.6"/><ellipse cx="1373.8" cy="945.1" rx="7.7" ry="6.6"/><ellipse cx="1399.3" cy="893.1" rx="7.7" ry="6.6"/><ellipse cx="1419.9" cy="895.9" rx="7.7" ry="6.6"/><ellipse cx="1394.8" cy="909.8" rx="7.7" ry="6.6"/><ellipse cx="1404.3" cy="916.2" rx="7.7" ry="6.6"/><ellipse cx="1411.0" cy="913.4" rx="7.7" ry="6.6"/><ellipse cx="1409.6" cy="924.6" rx="7.7" ry="6.6"/><ellipse cx="1428.2" cy="927.7" rx="7.7" ry="6.6"/><ellipse cx="1431.8" cy="929.6" rx="7.7" ry="6.6"/><ellipse cx="1428.9" cy="940.8" rx="7.7" ry="6.6"/><ellipse cx="1422.7" cy="948.0" rx="7.7" ry="6.6"/><ellipse cx="1437.7" cy="795.8" rx="7.7" ry="6.6"/><ellipse cx="1451.3" cy="791.3" rx="7.7" ry="6.6"/><ellipse cx="1454.2" cy="803.5" rx="7.7" ry="6.6"/><ellipse cx="1475.9" cy="785.1" rx="7.7" ry="6.6"/><ellipse cx="1461.6" cy="823.1" rx="7.7" ry="6.6"/><ellipse cx="1473.5" cy="819.5" rx="7.7" ry="6.6"/><ellipse cx="1493.6" cy="812.3" rx="7.7" ry="6.6"/><ellipse cx="1498.3" cy="814.2" rx="7.7" ry="6.6"/><ellipse cx="1497.1" cy="825.4" rx="7.7" ry="6.6"/><ellipse cx="1512.6" cy="817.8" rx="7.7" ry="6.6"/><ellipse cx="1540.1" cy="816.6" rx="7.7" ry="6.6"/><ellipse cx="1546.8" cy="808.3" rx="7.7" ry="6.6"/><ellipse cx="1550.4" cy="807.1" rx="7.7" ry="6.6"/><ellipse cx="1557.5" cy="782.5" rx="7.7" ry="6.6"/><ellipse cx="1562.3" cy="786.3" rx="7.7" ry="6.6"/><ellipse cx="1589.7" cy="841.2" rx="7.7" ry="6.6"/><ellipse cx="1592.8" cy="672.7" rx="7.7" ry="6.6"/><ellipse cx="1596.2" cy="677.0" rx="7.7" ry="6.6"/><ellipse cx="1587.6" cy="682.2" rx="7.7" ry="6.6"/><ellipse cx="1618.1" cy="670.1" rx="7.7" ry="6.6"/><ellipse cx="1621.2" cy="679.9" rx="7.7" ry="6.6"/><ellipse cx="1651.1" cy="695.6" rx="7.7" ry="6.6"/><ellipse cx="1589.5" cy="715.7" rx="7.7" ry="6.6"/><ellipse cx="1588.3" cy="722.3" rx="7.7" ry="6.6"/><ellipse cx="1614.1" cy="860.0" rx="7.7" ry="6.6"/><ellipse cx="1632.5" cy="855.0" rx="7.7" ry="6.6"/><ellipse cx="1648.7" cy="868.6" rx="7.7" ry="6.6"/><ellipse cx="1630.3" cy="796.3" rx="7.7" ry="6.6"/><ellipse cx="1626.5" cy="804.4" rx="7.7" ry="6.6"/><ellipse cx="1657.3" cy="794.9" rx="7.7" ry="6.6"/><ellipse cx="1669.2" cy="788.7" rx="7.7" ry="6.6"/><ellipse cx="1681.1" cy="790.8" rx="7.7" ry="6.6"/><ellipse cx="1669.9" cy="805.6" rx="7.7" ry="6.6"/><ellipse cx="1685.7" cy="825.0" rx="7.7" ry="6.6"/><ellipse cx="1701.4" cy="804.5" rx="7.7" ry="6.6"/><ellipse cx="1704.5" cy="815.2" rx="7.7" ry="6.6"/><ellipse cx="1788.4" cy="685.8" rx="7.7" ry="6.6"/><ellipse cx="1856.2" cy="695.0" rx="7.7" ry="6.6"/><ellipse cx="1777.9" cy="727.0" rx="7.7" ry="6.6"/><ellipse cx="1772.0" cy="738.8" rx="7.7" ry="6.6"/><ellipse cx="1844.1" cy="724.2" rx="7.7" ry="6.6"/><ellipse cx="1841.3" cy="747.0" rx="7.7" ry="6.6"/><ellipse cx="1788.9" cy="763.3" rx="7.7" ry="6.6"/><ellipse cx="1838.8" cy="774.8" rx="7.7" ry="6.6"/><ellipse cx="1852.1" cy="774.8" rx="7.7" ry="6.6"/><ellipse cx="1863.3" cy="788.4" rx="7.7" ry="6.6"/><ellipse cx="1840.0" cy="794.8" rx="7.7" ry="6.6"/><ellipse cx="1872.0" cy="812.9" rx="7.7" ry="6.6"/><ellipse cx="1770.0" cy="830.6" rx="7.7" ry="6.6"/><ellipse cx="1720.1" cy="850.0" rx="7.7" ry="6.6"/><ellipse cx="1728.5" cy="846.7" rx="7.7" ry="6.6"/><ellipse cx="1748.7" cy="846.2" rx="7.7" ry="6.6"/><ellipse cx="1745.7" cy="862.6" rx="7.7" ry="6.6"/><ellipse cx="1755.9" cy="860.0" rx="7.7" ry="6.6"/><ellipse cx="1751.6" cy="869.7" rx="7.7" ry="6.6"/><ellipse cx="1736.0" cy="873.8" rx="7.7" ry="6.6"/><ellipse cx="1726.0" cy="879.2" rx="7.7" ry="6.6"/><ellipse cx="1712.4" cy="883.5" rx="7.7" ry="6.6"/><ellipse cx="1752.6" cy="883.0" rx="7.7" ry="6.6"/><ellipse cx="1870.0" cy="892.0" rx="7.7" ry="6.6"/><ellipse cx="1794.5" cy="907.6" rx="7.7" ry="6.6"/><ellipse cx="1811.7" cy="905.0" rx="7.7" ry="6.6"/><ellipse cx="1822.4" cy="899.9" rx="7.7" ry="6.6"/><ellipse cx="1828.3" cy="899.6" rx="7.7" ry="6.6"/><ellipse cx="1801.9" cy="923.4" rx="7.7" ry="6.6"/><ellipse cx="1807.8" cy="926.0" rx="7.7" ry="6.6"/><ellipse cx="1813.5" cy="924.2" rx="7.7" ry="6.6"/><ellipse cx="1797.8" cy="937.0" rx="7.7" ry="6.6"/><ellipse cx="1819.8" cy="943.4" rx="7.7" ry="6.6"/></g>
<line x1="1198.4" y1="611.4" x2="1198.4" y2="1059.2" stroke="#000" stroke-width="2.6"/>
<line x1="1178.5" y1="612.7" x2="1198.4" y2="612.7" stroke="#000" stroke-width="2.6"/>
<line x1="1178.5" y1="724.3" x2="1198.4" y2="724.3" stroke="#000" stroke-width="2.6"/>
<line x1="1178.5" y1="836.0" x2="1198.4" y2="836.0" stroke="#000" stroke-width="2.6"/>
<line x1="1178.5" y1="947.9" x2="1198.4" y2="947.9" stroke="#000" stroke-width="2.6"/>
<line x1="1178.5" y1="1059.2" x2="1958.7" y2="1059.2" stroke="#000" stroke-width="2.8"/>
<line x1="1198.4" y1="1059.2" x2="1198.4" y2="1077.4" stroke="#000" stroke-width="2.6"/>
<line x1="1350.2" y1="1059.2" x2="1350.2" y2="1077.4" stroke="#000" stroke-width="2.6"/>
<line x1="1502.1" y1="1059.2" x2="1502.1" y2="1077.4" stroke="#000" stroke-width="2.6"/>
<line x1="1654.0" y1="1059.2" x2="1654.0" y2="1077.4" stroke="#000" stroke-width="2.6"/>
<line x1="1805.8" y1="1059.2" x2="1805.8" y2="1077.4" stroke="#000" stroke-width="2.6"/>
<line x1="1957.7" y1="1059.2" x2="1957.7" y2="1077.4" stroke="#000" stroke-width="2.6"/>
</g>
</svg>
</body></html>
